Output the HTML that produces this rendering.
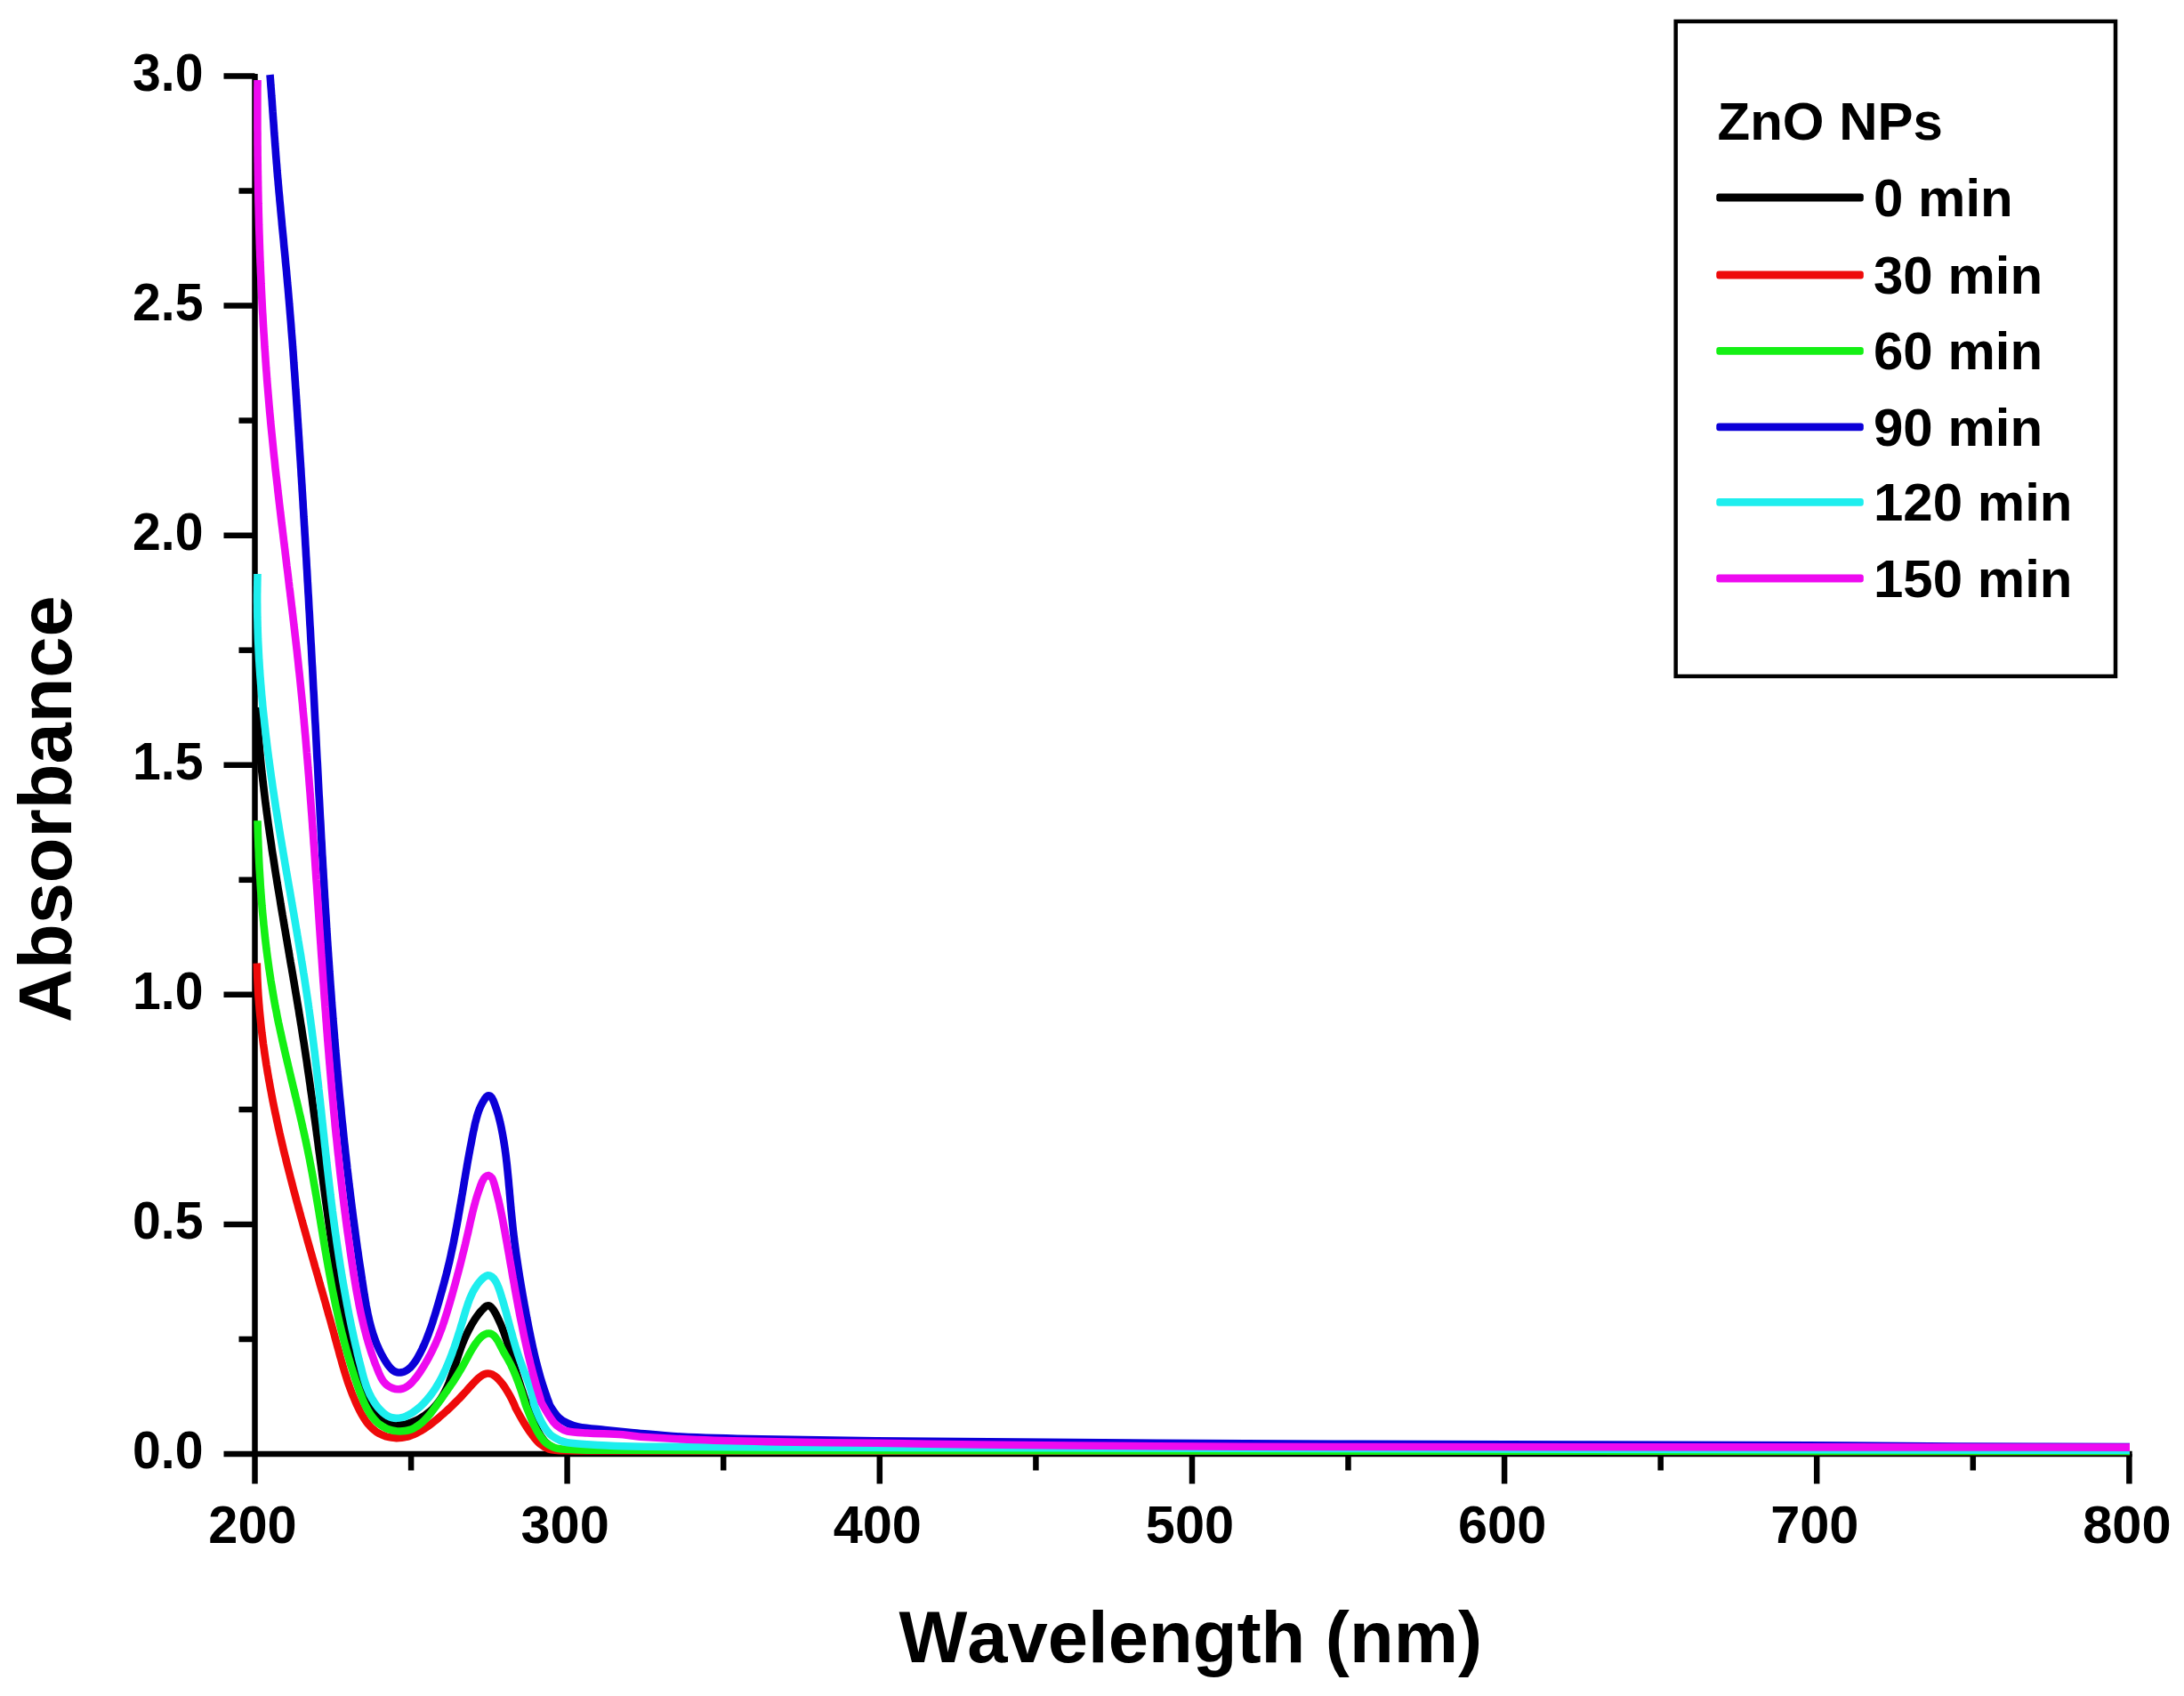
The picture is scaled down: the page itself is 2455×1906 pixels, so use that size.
<!DOCTYPE html>
<html lang="en"><head><meta charset="utf-8"><title>UV-Vis absorbance of ZnO NPs</title>
<style>html,body{margin:0;padding:0;background:#fff;}body{width:2455px;height:1906px;overflow:hidden;}svg{display:block;}text{font-family:'Liberation Sans', Arial, Helvetica, sans-serif;font-weight:bold;fill:#000;font-kerning:none;font-variant-ligatures:none;}</style>
</head><body>
<svg width="2455" height="1906" viewBox="0 0 2455 1906">
<rect x="0" y="0" width="2455" height="1906" fill="#ffffff"/>
<g stroke="#000" fill="none" stroke-linecap="butt">
<line x1="286.5" y1="83.0" x2="286.5" y2="1667.5" stroke-width="6.5"/>
<line x1="251.5" y1="1634.0" x2="2396.7" y2="1634.0" stroke-width="6.5"/>
<line x1="268.5" y1="1505.0" x2="286.5" y2="1505.0" stroke-width="6.5"/>
<line x1="251.5" y1="1375.9" x2="286.5" y2="1375.9" stroke-width="6.5"/>
<line x1="268.5" y1="1246.9" x2="286.5" y2="1246.9" stroke-width="6.5"/>
<line x1="251.5" y1="1117.8" x2="286.5" y2="1117.8" stroke-width="6.5"/>
<line x1="268.5" y1="988.8" x2="286.5" y2="988.8" stroke-width="6.5"/>
<line x1="251.5" y1="859.7" x2="286.5" y2="859.7" stroke-width="6.5"/>
<line x1="268.5" y1="730.7" x2="286.5" y2="730.7" stroke-width="6.5"/>
<line x1="251.5" y1="601.7" x2="286.5" y2="601.7" stroke-width="6.5"/>
<line x1="268.5" y1="472.6" x2="286.5" y2="472.6" stroke-width="6.5"/>
<line x1="251.5" y1="343.6" x2="286.5" y2="343.6" stroke-width="6.5"/>
<line x1="268.5" y1="214.5" x2="286.5" y2="214.5" stroke-width="6.5"/>
<line x1="251.5" y1="85.5" x2="286.5" y2="85.5" stroke-width="6.5"/>
<line x1="462.1" y1="1634.0" x2="462.1" y2="1652.5" stroke-width="6.5"/>
<line x1="637.6" y1="1634.0" x2="637.6" y2="1667.5" stroke-width="6.5"/>
<line x1="813.2" y1="1634.0" x2="813.2" y2="1652.5" stroke-width="6.5"/>
<line x1="988.8" y1="1634.0" x2="988.8" y2="1667.5" stroke-width="6.5"/>
<line x1="1164.4" y1="1634.0" x2="1164.4" y2="1652.5" stroke-width="6.5"/>
<line x1="1340.0" y1="1634.0" x2="1340.0" y2="1667.5" stroke-width="6.5"/>
<line x1="1515.5" y1="1634.0" x2="1515.5" y2="1652.5" stroke-width="6.5"/>
<line x1="1691.1" y1="1634.0" x2="1691.1" y2="1667.5" stroke-width="6.5"/>
<line x1="1866.7" y1="1634.0" x2="1866.7" y2="1652.5" stroke-width="6.5"/>
<line x1="2042.2" y1="1634.0" x2="2042.2" y2="1667.5" stroke-width="6.5"/>
<line x1="2217.8" y1="1634.0" x2="2217.8" y2="1652.5" stroke-width="6.5"/>
<line x1="2393.4" y1="1634.0" x2="2393.4" y2="1667.5" stroke-width="6.5"/>
</g>
<g font-size="59.5">
<text transform="translate(228.5 1650.0) scale(0.96 1)" text-anchor="end">0.0</text>
<text transform="translate(228.5 1391.9) scale(0.96 1)" text-anchor="end">0.5</text>
<text transform="translate(228.5 1133.8) scale(0.96 1)" text-anchor="end">1.0</text>
<text transform="translate(228.5 875.7) scale(0.96 1)" text-anchor="end">1.5</text>
<text transform="translate(228.5 617.7) scale(0.96 1)" text-anchor="end">2.0</text>
<text transform="translate(228.5 359.6) scale(0.96 1)" text-anchor="end">2.5</text>
<text transform="translate(228.5 101.5) scale(0.96 1)" text-anchor="end">3.0</text>
</g>
<g font-size="59.5">
<text x="284.0" y="1733.5" text-anchor="middle">200</text>
<text x="635.1" y="1733.5" text-anchor="middle">300</text>
<text x="986.3" y="1733.5" text-anchor="middle">400</text>
<text x="1337.5" y="1733.5" text-anchor="middle">500</text>
<text x="1688.6" y="1733.5" text-anchor="middle">600</text>
<text x="2039.8" y="1733.5" text-anchor="middle">700</text>
<text x="2390.9" y="1733.5" text-anchor="middle">800</text>
</g>
<text x="1010.5" y="1868" font-size="81.4">Wavelength (nm)</text>
<text transform="translate(79.5 1149) rotate(-90)" font-size="83">Absorbance</text>
<g fill="none" stroke-width="8.6" stroke-linejoin="round" stroke-linecap="butt">
<path stroke="#000000" d="M288.5 795.0 C288.6 797.0 288.7 799.0 288.8 801.0 C289.0 803.0 289.1 805.0 289.2 807.0 C289.3 809.0 289.5 811.1 289.6 813.1 C289.7 815.1 289.9 817.1 290.0 819.1 C290.2 821.1 290.3 823.1 290.5 825.1 C290.6 827.1 290.8 829.1 291.0 831.1 C291.1 833.1 291.3 835.1 291.5 837.1 C291.6 839.1 291.8 841.1 292.0 843.1 C292.2 845.1 292.4 847.1 292.5 849.1 C292.7 851.1 292.9 853.1 293.1 855.1 C293.3 857.1 293.5 859.1 293.7 861.1 C293.9 863.1 294.1 865.1 294.3 867.1 C294.6 869.1 294.8 871.0 295.0 873.0 C295.2 875.0 295.4 877.0 295.7 879.0 C295.9 881.0 296.1 883.0 296.4 885.0 C296.6 887.0 296.8 889.0 297.1 891.0 C297.3 893.0 297.6 895.0 297.8 897.0 C298.0 899.0 298.3 900.9 298.5 902.9 C298.8 904.9 299.1 906.9 299.3 908.9 C299.6 910.9 299.8 912.9 300.1 914.9 C300.4 916.9 300.6 918.9 300.9 920.8 C301.2 922.8 301.4 924.8 301.7 926.8 C302.0 928.8 302.3 930.8 302.6 932.8 C302.8 934.8 303.1 936.8 303.4 938.7 C303.7 940.7 304.0 942.7 304.3 944.7 C304.6 946.7 304.9 948.7 305.2 950.7 C305.4 952.6 305.7 954.6 306.0 956.6 C306.3 958.6 306.6 960.6 307.0 962.6 C307.3 964.6 307.6 966.5 307.9 968.5 C308.2 970.5 308.5 972.5 308.8 974.5 C309.1 976.5 309.4 978.4 309.7 980.4 C310.0 982.4 310.4 984.4 310.7 986.4 C311.0 988.4 311.3 990.3 311.6 992.3 C312.0 994.3 312.3 996.3 312.6 998.3 C312.9 1000.3 313.3 1002.2 313.6 1004.2 C313.9 1006.2 314.2 1008.2 314.6 1010.2 C314.9 1012.2 315.2 1014.1 315.5 1016.1 C315.9 1018.1 316.2 1020.1 316.5 1022.1 C316.9 1024.0 317.2 1026.0 317.5 1028.0 C317.9 1030.0 318.2 1032.0 318.5 1033.9 C318.9 1035.9 319.2 1037.9 319.5 1039.9 C319.9 1041.9 320.2 1043.9 320.6 1045.8 C320.9 1047.8 321.2 1049.8 321.6 1051.8 C321.9 1053.8 322.2 1055.7 322.6 1057.7 C322.9 1059.7 323.3 1061.7 323.6 1063.7 C323.9 1065.6 324.3 1067.6 324.6 1069.6 C325.0 1071.6 325.3 1073.6 325.6 1075.5 C326.0 1077.5 326.3 1079.5 326.6 1081.5 C327.0 1083.5 327.3 1085.4 327.7 1087.4 C328.0 1089.4 328.3 1091.4 328.7 1093.4 C329.0 1095.3 329.4 1097.3 329.7 1099.3 C330.0 1101.3 330.4 1103.3 330.7 1105.2 C331.0 1107.2 331.4 1109.2 331.7 1111.2 C332.0 1113.2 332.4 1115.1 332.7 1117.1 C333.0 1119.1 333.4 1121.1 333.7 1123.1 C334.0 1125.0 334.3 1127.0 334.7 1129.0 C335.0 1131.0 335.3 1133.0 335.7 1134.9 C336.0 1136.9 336.3 1138.9 336.6 1140.9 C337.0 1142.9 337.3 1144.9 337.6 1146.8 C337.9 1148.8 338.2 1150.8 338.6 1152.8 C338.9 1154.8 339.2 1156.7 339.5 1158.7 C339.8 1160.7 340.1 1162.7 340.4 1164.7 C340.7 1166.7 341.1 1168.6 341.4 1170.6 C341.7 1172.6 342.0 1174.6 342.3 1176.6 C342.6 1178.6 342.9 1180.5 343.2 1182.5 C343.5 1184.5 343.8 1186.5 344.1 1188.5 C344.4 1190.5 344.7 1192.4 345.0 1194.4 C345.3 1196.4 345.5 1198.4 345.8 1200.4 C346.1 1202.4 346.4 1204.3 346.7 1206.3 C347.0 1208.3 347.3 1210.3 347.6 1212.3 C347.8 1214.3 348.1 1216.3 348.4 1218.2 C348.7 1220.2 349.0 1222.2 349.2 1224.2 C349.5 1226.2 349.8 1228.2 350.1 1230.2 C350.4 1232.1 350.6 1234.1 350.9 1236.1 C351.2 1238.1 351.4 1240.1 351.7 1242.1 C352.0 1244.1 352.3 1246.0 352.5 1248.0 C352.8 1250.0 353.1 1252.0 353.3 1254.0 C353.6 1256.0 353.9 1258.0 354.2 1260.0 C354.4 1261.9 354.7 1263.9 355.0 1265.9 C355.2 1267.9 355.5 1269.9 355.8 1271.9 C356.0 1273.9 356.3 1275.9 356.6 1277.8 C356.8 1279.8 357.1 1281.8 357.4 1283.8 C357.6 1285.8 357.9 1287.8 358.1 1289.8 C358.4 1291.8 358.7 1293.8 358.9 1295.7 C359.2 1297.7 359.5 1299.7 359.7 1301.7 C360.0 1303.7 360.3 1305.7 360.5 1307.7 C360.8 1309.7 361.1 1311.7 361.3 1313.7 C361.6 1315.6 361.9 1317.6 362.1 1319.6 C362.4 1321.6 362.6 1323.6 362.9 1325.6 C363.2 1327.6 363.4 1329.6 363.7 1331.6 C364.0 1333.6 364.2 1335.5 364.5 1337.5 C364.8 1339.5 365.1 1341.5 365.3 1343.5 C365.6 1345.5 365.9 1347.5 366.1 1349.5 C366.4 1351.5 366.7 1353.5 367.0 1355.5 C367.2 1357.5 367.5 1359.4 367.8 1361.4 C368.0 1363.4 368.3 1365.4 368.6 1367.4 C368.9 1369.4 369.2 1371.4 369.4 1373.4 C369.7 1375.4 370.0 1377.4 370.3 1379.4 C370.6 1381.4 370.8 1383.3 371.1 1385.3 C371.4 1387.3 371.7 1389.3 372.0 1391.3 C372.3 1393.3 372.6 1395.3 372.8 1397.3 C373.1 1399.3 373.4 1401.3 373.7 1403.3 C374.0 1405.3 374.3 1407.3 374.6 1409.2 C374.9 1411.2 375.2 1413.2 375.5 1415.2 C375.8 1417.2 376.1 1419.2 376.4 1421.2 C376.7 1423.2 377.0 1425.2 377.3 1427.2 C377.6 1429.2 377.9 1431.2 378.3 1433.2 C378.6 1435.2 378.9 1437.1 379.2 1439.1 C379.5 1441.1 379.8 1443.1 380.2 1445.1 C380.5 1447.1 380.8 1449.1 381.2 1451.1 C381.5 1453.1 381.8 1455.0 382.2 1457.0 C382.5 1459.0 382.9 1461.0 383.2 1463.0 C383.6 1465.0 383.9 1466.9 384.3 1468.9 C384.7 1470.9 385.0 1472.9 385.4 1474.8 C385.8 1476.8 386.2 1478.8 386.5 1480.7 C386.9 1482.7 387.3 1484.7 387.7 1486.6 C388.1 1488.6 388.5 1490.5 388.9 1492.5 C389.3 1494.5 389.8 1496.4 390.2 1498.4 C390.6 1500.3 391.0 1502.3 391.5 1504.2 C391.9 1506.1 392.4 1508.1 392.8 1510.0 C393.3 1511.9 393.8 1513.9 394.2 1515.8 C394.7 1517.7 395.2 1519.6 395.7 1521.6 C396.2 1523.5 396.7 1525.4 397.2 1527.3 C397.7 1529.2 398.2 1531.1 398.8 1533.0 C399.3 1534.9 399.8 1536.8 400.4 1538.7 C400.9 1540.6 401.5 1542.4 402.1 1544.3 C402.7 1546.2 403.2 1548.1 403.9 1549.9 C404.5 1551.8 405.1 1553.7 405.8 1555.6 C406.5 1557.4 407.2 1559.3 407.9 1561.2 C408.7 1563.0 409.5 1564.9 410.3 1566.8 C411.1 1568.7 412.0 1570.6 412.9 1572.4 C413.9 1574.3 414.9 1576.2 415.9 1578.1 C417.0 1580.0 418.1 1581.9 419.3 1583.7 C420.5 1585.6 421.7 1587.4 423.1 1589.2 C424.4 1590.8 425.8 1592.4 427.3 1593.9 C428.8 1595.2 430.4 1596.4 432.1 1597.4 C433.7 1598.4 435.5 1599.2 437.3 1599.9 C439.0 1600.5 440.9 1600.9 442.8 1601.2 C444.7 1601.4 446.6 1601.5 448.5 1601.5 C450.5 1601.4 452.4 1601.2 454.4 1600.9 C456.3 1600.5 458.3 1600.0 460.2 1599.4 C462.1 1598.8 464.1 1598.1 465.9 1597.3 C467.8 1596.5 469.7 1595.5 471.5 1594.5 C473.3 1593.5 475.0 1592.4 476.8 1591.2 C478.5 1590.0 480.1 1588.7 481.7 1587.4 C483.3 1586.1 484.8 1584.7 486.3 1583.3 C487.7 1581.9 489.0 1580.4 490.3 1578.9 C491.6 1577.4 492.8 1575.9 493.9 1574.3 C495.0 1572.8 496.1 1571.2 497.1 1569.5 C498.1 1567.9 499.0 1566.2 499.9 1564.5 C500.8 1562.8 501.6 1561.1 502.4 1559.4 C503.2 1557.6 504.0 1555.8 504.7 1554.1 C505.4 1552.2 506.1 1550.4 506.7 1548.6 C507.4 1546.7 508.1 1544.9 508.7 1543.0 C509.3 1541.1 510.0 1539.2 510.6 1537.3 C511.2 1535.3 511.8 1533.4 512.5 1531.4 C513.1 1529.4 513.7 1527.5 514.4 1525.5 C515.1 1523.5 515.7 1521.5 516.4 1519.5 C517.1 1517.5 517.9 1515.4 518.6 1513.4 C519.4 1511.3 520.2 1509.3 521.1 1507.3 C521.9 1505.2 522.8 1503.1 523.8 1501.1 C524.7 1499.1 525.7 1497.0 526.7 1495.0 C527.7 1493.1 528.8 1491.1 529.8 1489.2 C530.9 1487.3 532.0 1485.5 533.1 1483.7 C534.2 1481.9 535.4 1480.2 536.6 1478.6 C537.7 1477.1 538.9 1475.5 540.1 1474.1 C541.2 1472.8 542.4 1471.5 543.7 1470.3 C544.8 1469.3 545.9 1468.0 547.3 1467.5 C548.3 1467.2 549.8 1467.3 550.8 1467.9 C552.2 1468.6 553.3 1470.2 554.3 1471.5 C555.5 1473.2 556.5 1475.1 557.6 1477.0 C558.6 1479.0 559.6 1481.0 560.5 1483.1 C561.4 1485.0 562.3 1487.1 563.2 1489.1 C564.0 1491.0 564.8 1493.0 565.5 1495.0 C566.3 1497.0 567.0 1499.0 567.7 1501.0 C568.4 1502.9 569.0 1504.9 569.7 1506.8 C570.3 1508.8 570.9 1510.7 571.5 1512.7 C572.1 1514.6 572.6 1516.5 573.2 1518.5 C573.8 1520.4 574.3 1522.3 574.9 1524.2 C575.4 1526.2 576.0 1528.1 576.6 1530.0 C577.1 1531.9 577.7 1533.8 578.3 1535.7 C578.9 1537.6 579.4 1539.5 580.0 1541.4 C580.6 1543.3 581.2 1545.2 581.8 1547.1 C582.4 1549.0 583.0 1550.9 583.7 1552.8 C584.3 1554.7 584.9 1556.6 585.5 1558.5 C586.1 1560.4 586.8 1562.3 587.4 1564.3 C588.1 1566.2 588.7 1568.1 589.3 1570.0 C590.0 1571.9 590.6 1573.8 591.3 1575.7 C594.1 1583.2 596.8 1590.7 600.0 1598.0 C602.4 1603.5 604.8 1609.1 608.0 1614.0 C610.4 1617.7 613.4 1621.5 617.0 1624.0 C620.8 1626.6 625.4 1628.8 630.0 1629.5 C639.8 1631.1 650.0 1631.0 660.0 1631.0 C1238.0 1631.7 1816.0 1631.3 2394.0 1631.5"/>
<path stroke="#ee0a0a" d="M288.8 1082.5 C288.9 1084.5 288.9 1086.6 289.0 1088.6 C289.0 1090.6 289.1 1092.6 289.2 1094.7 C289.2 1096.7 289.3 1098.7 289.4 1100.7 C289.5 1102.7 289.6 1104.8 289.7 1106.8 C289.8 1108.8 289.9 1110.8 290.0 1112.8 C290.2 1114.8 290.3 1116.9 290.4 1118.9 C290.6 1120.9 290.7 1122.9 290.9 1124.9 C291.0 1126.9 291.2 1128.9 291.4 1130.9 C291.5 1132.9 291.7 1134.9 291.9 1136.9 C292.1 1138.9 292.3 1140.9 292.5 1142.9 C292.7 1144.9 292.9 1146.9 293.1 1148.9 C293.3 1150.9 293.5 1152.9 293.7 1154.9 C294.0 1156.9 294.2 1158.9 294.4 1160.9 C294.7 1162.9 294.9 1164.9 295.2 1166.9 C295.4 1168.8 295.7 1170.8 295.9 1172.8 C296.2 1174.8 296.5 1176.8 296.8 1178.8 C297.0 1180.8 297.3 1182.7 297.6 1184.7 C297.9 1186.7 298.2 1188.7 298.5 1190.7 C298.8 1192.6 299.1 1194.6 299.4 1196.6 C299.7 1198.6 300.1 1200.5 300.4 1202.5 C300.7 1204.5 301.0 1206.5 301.4 1208.4 C301.7 1210.4 302.1 1212.4 302.4 1214.4 C302.8 1216.3 303.1 1218.3 303.5 1220.3 C303.8 1222.2 304.2 1224.2 304.6 1226.2 C304.9 1228.1 305.3 1230.1 305.7 1232.1 C306.1 1234.0 306.4 1236.0 306.8 1238.0 C307.2 1239.9 307.6 1241.9 308.0 1243.8 C308.4 1245.8 308.8 1247.8 309.2 1249.7 C309.6 1251.7 310.1 1253.7 310.5 1255.6 C310.9 1257.6 311.3 1259.5 311.7 1261.5 C312.2 1263.4 312.6 1265.4 313.0 1267.4 C313.5 1269.3 313.9 1271.3 314.3 1273.2 C314.8 1275.2 315.2 1277.1 315.7 1279.1 C316.1 1281.0 316.6 1283.0 317.0 1284.9 C317.5 1286.9 318.0 1288.8 318.4 1290.8 C318.9 1292.7 319.4 1294.7 319.8 1296.6 C320.3 1298.6 320.8 1300.5 321.3 1302.5 C321.7 1304.4 322.2 1306.4 322.7 1308.3 C323.2 1310.3 323.7 1312.2 324.2 1314.2 C324.7 1316.1 325.2 1318.1 325.7 1320.0 C326.2 1322.0 326.7 1323.9 327.2 1325.9 C327.7 1327.8 328.2 1329.7 328.7 1331.7 C329.2 1333.6 329.7 1335.6 330.2 1337.5 C330.7 1339.5 331.3 1341.4 331.8 1343.4 C332.3 1345.3 332.8 1347.2 333.3 1349.2 C333.9 1351.1 334.4 1353.1 334.9 1355.0 C335.4 1357.0 336.0 1358.9 336.5 1360.8 C337.0 1362.8 337.6 1364.7 338.1 1366.7 C338.6 1368.6 339.2 1370.6 339.7 1372.5 C340.3 1374.4 340.8 1376.4 341.3 1378.3 C341.9 1380.3 342.4 1382.2 343.0 1384.2 C343.5 1386.1 344.1 1388.0 344.6 1390.0 C345.1 1391.9 345.7 1393.9 346.2 1395.8 C346.8 1397.8 347.3 1399.7 347.9 1401.6 C348.4 1403.6 349.0 1405.5 349.6 1407.5 C350.1 1409.4 350.7 1411.3 351.2 1413.3 C351.8 1415.2 352.3 1417.2 352.9 1419.1 C353.4 1421.1 354.0 1423.0 354.5 1424.9 C355.1 1426.9 355.7 1428.8 356.2 1430.8 C356.8 1432.7 357.3 1434.6 357.9 1436.6 C358.4 1438.5 359.0 1440.4 359.5 1442.4 C360.1 1444.3 360.6 1446.3 361.2 1448.2 C361.7 1450.1 362.3 1452.1 362.9 1454.0 C363.4 1455.9 364.0 1457.9 364.5 1459.8 C365.1 1461.7 365.6 1463.7 366.2 1465.6 C366.7 1467.5 367.2 1469.5 367.8 1471.4 C368.3 1473.3 368.9 1475.3 369.4 1477.2 C370.0 1479.1 370.5 1481.1 371.1 1483.0 C371.6 1484.9 372.1 1486.8 372.7 1488.8 C373.2 1490.7 373.7 1492.6 374.3 1494.5 C374.8 1496.5 375.3 1498.4 375.9 1500.3 C376.4 1502.2 376.9 1504.1 377.4 1506.1 C378.0 1508.0 378.5 1509.9 379.0 1511.8 C379.5 1513.7 380.0 1515.6 380.6 1517.6 C381.1 1519.5 381.6 1521.4 382.1 1523.3 C382.6 1525.2 383.2 1527.1 383.7 1529.0 C384.2 1530.9 384.8 1532.8 385.3 1534.8 C385.9 1536.7 386.5 1538.6 387.0 1540.5 C387.6 1542.4 388.2 1544.3 388.8 1546.2 C389.4 1548.1 390.0 1550.0 390.6 1551.9 C391.3 1553.8 391.9 1555.7 392.6 1557.6 C393.3 1559.5 394.0 1561.3 394.7 1563.2 C395.4 1565.1 396.1 1567.0 396.9 1568.9 C397.7 1570.8 398.5 1572.7 399.3 1574.5 C400.1 1576.4 400.9 1578.3 401.8 1580.2 C402.7 1582.1 403.6 1584.0 404.6 1585.8 C405.5 1587.6 406.5 1589.5 407.6 1591.3 C408.6 1593.0 409.7 1594.8 410.9 1596.5 C412.1 1598.1 413.3 1599.8 414.6 1601.3 C415.9 1602.8 417.3 1604.3 418.7 1605.6 C420.2 1606.9 421.7 1608.2 423.4 1609.3 C425.0 1610.3 426.8 1611.3 428.6 1612.1 C430.4 1613.0 432.2 1613.7 434.1 1614.3 C436.0 1614.8 438.0 1615.3 440.0 1615.6 C441.9 1615.9 443.9 1616.0 445.8 1616.1 C447.8 1616.1 449.7 1616.0 451.6 1615.8 C453.5 1615.6 455.4 1615.2 457.2 1614.7 C459.1 1614.3 460.9 1613.7 462.7 1613.0 C464.5 1612.4 466.3 1611.6 468.0 1610.7 C469.8 1609.9 471.5 1608.9 473.2 1608.0 C475.0 1606.9 476.7 1605.9 478.3 1604.8 C480.0 1603.6 481.7 1602.4 483.3 1601.2 C484.9 1600.0 486.5 1598.8 488.1 1597.5 C489.7 1596.2 491.3 1594.9 492.9 1593.6 C494.4 1592.2 496.0 1590.9 497.5 1589.6 C499.1 1588.2 500.6 1586.8 502.1 1585.5 C503.6 1584.1 505.1 1582.7 506.6 1581.3 C508.1 1579.8 509.6 1578.4 511.1 1576.9 C512.5 1575.5 514.0 1574.0 515.5 1572.5 C517.0 1571.0 518.4 1569.4 519.9 1567.9 C521.3 1566.3 522.8 1564.7 524.3 1563.1 C525.7 1561.5 527.2 1559.8 528.6 1558.2 C530.1 1556.6 531.5 1554.9 533.1 1553.4 C534.5 1551.9 535.9 1550.4 537.5 1549.0 C538.9 1547.8 540.4 1546.6 542.0 1545.6 C543.4 1544.8 545.0 1544.0 546.6 1543.7 C548.1 1543.4 549.8 1543.5 551.2 1543.9 C552.9 1544.3 554.5 1545.2 555.9 1546.2 C557.6 1547.3 559.1 1548.7 560.5 1550.2 C562.1 1551.8 563.5 1553.6 564.9 1555.4 C566.3 1557.3 567.7 1559.3 569.0 1561.4 C570.3 1563.4 571.5 1565.5 572.6 1567.6 C573.7 1569.6 574.8 1571.6 575.8 1573.6 C576.6 1575.3 577.5 1577.1 578.3 1578.9 C578.9 1580.2 579.3 1581.7 580.0 1583.0 C582.8 1588.2 585.6 1593.4 588.7 1598.5 C591.5 1603.1 594.4 1607.7 597.7 1612.0 C600.5 1615.7 603.3 1619.5 606.8 1622.5 C609.8 1625.0 613.4 1627.4 617.2 1628.5 C622.5 1630.0 628.4 1630.2 634.0 1630.3 C656.0 1630.8 678.0 1630.5 700.0 1630.5 C1264.7 1630.7 1829.3 1630.8 2394.0 1631.0"/>
<path stroke="#14f014" d="M289.5 922.2 C289.5 924.2 289.6 926.2 289.7 928.2 C289.7 930.2 289.8 932.2 289.8 934.2 C289.9 936.3 290.0 938.3 290.0 940.3 C290.1 942.3 290.2 944.3 290.3 946.3 C290.3 948.3 290.4 950.3 290.5 952.3 C290.6 954.3 290.7 956.3 290.8 958.3 C290.8 960.3 290.9 962.3 291.0 964.3 C291.1 966.3 291.2 968.3 291.3 970.3 C291.4 972.3 291.5 974.3 291.6 976.3 C291.8 978.3 291.9 980.3 292.0 982.3 C292.1 984.3 292.2 986.3 292.4 988.3 C292.5 990.3 292.6 992.3 292.7 994.3 C292.9 996.3 293.0 998.3 293.1 1000.3 C293.3 1002.3 293.4 1004.2 293.6 1006.2 C293.7 1008.2 293.9 1010.2 294.0 1012.2 C294.2 1014.2 294.4 1016.2 294.5 1018.2 C294.7 1020.2 294.9 1022.2 295.0 1024.2 C295.2 1026.2 295.4 1028.2 295.6 1030.1 C295.8 1032.1 296.0 1034.1 296.2 1036.1 C296.3 1038.1 296.5 1040.1 296.8 1042.1 C297.0 1044.1 297.2 1046.1 297.4 1048.0 C297.6 1050.0 297.8 1052.0 298.0 1054.0 C298.3 1056.0 298.5 1058.0 298.7 1060.0 C299.0 1061.9 299.2 1063.9 299.4 1065.9 C299.7 1067.9 299.9 1069.9 300.2 1071.9 C300.4 1073.9 300.7 1075.8 301.0 1077.8 C301.2 1079.8 301.5 1081.8 301.8 1083.8 C302.0 1085.8 302.3 1087.7 302.6 1089.7 C302.9 1091.7 303.2 1093.7 303.5 1095.7 C303.8 1097.6 304.1 1099.6 304.4 1101.6 C304.7 1103.6 305.0 1105.6 305.4 1107.5 C305.7 1109.5 306.0 1111.5 306.4 1113.5 C306.7 1115.5 307.0 1117.4 307.4 1119.4 C307.7 1121.4 308.1 1123.4 308.4 1125.3 C308.8 1127.3 309.2 1129.3 309.5 1131.3 C309.9 1133.3 310.3 1135.2 310.7 1137.2 C311.1 1139.2 311.4 1141.2 311.8 1143.1 C312.2 1145.1 312.6 1147.1 313.0 1149.1 C313.5 1151.0 313.9 1153.0 314.3 1155.0 C314.7 1157.0 315.1 1158.9 315.6 1160.9 C316.0 1162.9 316.4 1164.8 316.9 1166.8 C317.3 1168.8 317.7 1170.8 318.2 1172.7 C318.6 1174.7 319.1 1176.7 319.5 1178.6 C320.0 1180.6 320.4 1182.6 320.9 1184.6 C321.3 1186.5 321.8 1188.5 322.3 1190.5 C322.7 1192.4 323.2 1194.4 323.7 1196.4 C324.1 1198.4 324.6 1200.3 325.1 1202.3 C325.5 1204.3 326.0 1206.2 326.5 1208.2 C326.9 1210.2 327.4 1212.1 327.9 1214.1 C328.4 1216.1 328.8 1218.0 329.3 1220.0 C329.8 1222.0 330.3 1223.9 330.7 1225.9 C331.2 1227.9 331.7 1229.8 332.1 1231.8 C332.6 1233.8 333.1 1235.7 333.6 1237.7 C334.0 1239.7 334.5 1241.6 335.0 1243.6 C335.4 1245.6 335.9 1247.5 336.3 1249.5 C336.8 1251.5 337.3 1253.4 337.7 1255.4 C338.2 1257.4 338.6 1259.3 339.1 1261.3 C339.5 1263.3 340.0 1265.2 340.4 1267.2 C340.9 1269.2 341.3 1271.1 341.7 1273.1 C342.2 1275.0 342.6 1277.0 343.0 1279.0 C343.4 1280.9 343.9 1282.9 344.3 1284.9 C344.7 1286.8 345.1 1288.8 345.5 1290.7 C345.9 1292.7 346.3 1294.7 346.7 1296.6 C347.1 1298.6 347.5 1300.6 347.9 1302.5 C348.3 1304.5 348.6 1306.4 349.0 1308.4 C349.4 1310.4 349.8 1312.3 350.1 1314.3 C350.5 1316.3 350.9 1318.2 351.2 1320.2 C351.6 1322.1 351.9 1324.1 352.3 1326.1 C352.6 1328.0 353.0 1330.0 353.3 1331.9 C353.7 1333.9 354.0 1335.9 354.4 1337.8 C354.7 1339.8 355.0 1341.7 355.4 1343.7 C355.7 1345.7 356.0 1347.6 356.4 1349.6 C356.7 1351.5 357.0 1353.5 357.4 1355.5 C357.7 1357.4 358.0 1359.4 358.4 1361.3 C358.7 1363.3 359.0 1365.3 359.3 1367.2 C359.7 1369.2 360.0 1371.1 360.3 1373.1 C360.6 1375.1 361.0 1377.0 361.3 1379.0 C361.6 1380.9 361.9 1382.9 362.3 1384.9 C362.6 1386.8 362.9 1388.8 363.2 1390.7 C363.6 1392.7 363.9 1394.7 364.2 1396.6 C364.5 1398.6 364.9 1400.5 365.2 1402.5 C365.5 1404.5 365.9 1406.4 366.2 1408.4 C366.5 1410.3 366.9 1412.3 367.2 1414.2 C367.6 1416.2 367.9 1418.2 368.3 1420.1 C368.6 1422.1 368.9 1424.0 369.3 1426.0 C369.7 1428.0 370.0 1429.9 370.4 1431.9 C370.7 1433.8 371.1 1435.8 371.5 1437.7 C371.8 1439.7 372.2 1441.7 372.6 1443.6 C372.9 1445.6 373.3 1447.5 373.7 1449.5 C374.1 1451.5 374.5 1453.4 374.9 1455.4 C375.3 1457.3 375.7 1459.3 376.1 1461.2 C376.5 1463.2 376.9 1465.2 377.3 1467.1 C377.7 1469.1 378.1 1471.0 378.6 1473.0 C379.0 1475.0 379.4 1476.9 379.9 1478.9 C380.3 1480.8 380.7 1482.8 381.2 1484.8 C381.7 1486.7 382.1 1488.7 382.6 1490.6 C383.1 1492.6 383.5 1494.6 384.0 1496.5 C384.5 1498.5 385.0 1500.4 385.5 1502.4 C386.0 1504.3 386.5 1506.3 387.0 1508.3 C387.5 1510.2 388.1 1512.2 388.6 1514.1 C389.1 1516.1 389.7 1518.1 390.2 1520.0 C390.8 1522.0 391.3 1523.9 391.9 1525.9 C392.5 1527.9 393.1 1529.8 393.6 1531.8 C394.2 1533.7 394.8 1535.7 395.5 1537.7 C396.1 1539.6 396.7 1541.6 397.3 1543.5 C398.0 1545.5 398.6 1547.5 399.2 1549.4 C399.9 1551.4 400.6 1553.4 401.2 1555.3 C401.9 1557.3 402.6 1559.2 403.3 1561.2 C404.0 1563.2 404.7 1565.1 405.5 1567.1 C406.2 1569.0 407.0 1570.9 407.8 1572.8 C408.5 1574.7 409.4 1576.6 410.2 1578.5 C411.1 1580.3 412.0 1582.1 413.0 1583.8 C413.9 1585.5 414.9 1587.2 416.0 1588.9 C417.0 1590.5 418.2 1592.0 419.4 1593.5 C420.6 1595.0 421.8 1596.4 423.2 1597.7 C424.5 1599.0 425.9 1600.2 427.5 1601.3 C429.0 1602.4 430.6 1603.4 432.3 1604.2 C434.0 1605.1 435.8 1605.9 437.6 1606.5 C439.5 1607.1 441.5 1607.6 443.4 1607.9 C445.4 1608.3 447.5 1608.5 449.5 1608.5 C451.5 1608.5 453.5 1608.4 455.5 1608.1 C457.5 1607.8 459.5 1607.3 461.4 1606.7 C463.3 1606.0 465.1 1605.1 466.8 1604.1 C468.6 1603.1 470.3 1602.0 471.9 1600.7 C473.6 1599.4 475.2 1598.0 476.7 1596.5 C478.2 1595.0 479.7 1593.4 481.1 1591.8 C482.5 1590.2 483.9 1588.5 485.2 1586.8 C486.6 1585.1 487.9 1583.3 489.1 1581.6 C490.4 1579.9 491.6 1578.2 492.8 1576.5 C494.0 1574.8 495.1 1573.2 496.3 1571.6 C497.4 1570.0 498.5 1568.5 499.6 1566.9 C500.7 1565.4 501.7 1563.9 502.8 1562.4 C503.8 1560.9 504.9 1559.4 505.9 1557.9 C506.9 1556.4 508.0 1554.9 509.0 1553.4 C510.0 1551.8 511.0 1550.3 512.0 1548.7 C513.0 1547.1 514.0 1545.5 515.0 1543.9 C516.0 1542.2 517.1 1540.5 518.1 1538.8 C519.1 1537.0 520.2 1535.2 521.2 1533.3 C522.3 1531.4 523.4 1529.4 524.4 1527.4 C525.6 1525.4 526.6 1523.3 527.8 1521.2 C528.9 1519.2 530.1 1517.1 531.3 1515.1 C532.5 1513.2 533.6 1511.3 535.0 1509.5 C536.1 1507.8 537.4 1506.1 538.8 1504.6 C540.0 1503.3 541.4 1502.0 542.8 1500.9 C544.1 1500.0 545.5 1499.2 547.0 1498.8 C548.3 1498.5 549.9 1498.4 551.2 1498.7 C552.6 1499.1 554.1 1500.1 555.3 1501.1 C556.8 1502.5 557.9 1504.4 559.1 1506.1 C560.4 1508.2 561.5 1510.4 562.7 1512.6 C563.8 1514.7 564.9 1516.8 566.0 1518.9 C567.0 1520.8 568.1 1522.6 569.1 1524.4 C570.1 1526.1 571.1 1527.9 572.0 1529.6 C573.0 1531.3 573.9 1533.1 574.8 1534.9 C575.6 1536.7 576.5 1538.5 577.3 1540.4 C578.1 1542.3 578.9 1544.1 579.7 1546.0 C580.4 1547.9 581.2 1549.9 581.9 1551.8 C582.6 1553.7 583.3 1555.6 584.0 1557.6 C584.7 1559.5 585.3 1561.4 586.0 1563.3 C586.6 1565.2 587.2 1567.1 587.8 1569.0 C588.4 1570.9 589.0 1572.7 589.6 1574.6 C590.2 1576.4 590.6 1578.2 591.3 1580.0 C594.1 1587.0 596.8 1594.2 600.0 1601.0 C602.0 1605.3 604.3 1609.6 607.0 1613.5 C609.3 1616.8 611.8 1620.2 615.0 1622.5 C618.7 1625.1 623.1 1627.5 627.6 1628.0 C644.8 1629.9 662.5 1629.7 680.0 1629.8 C786.7 1630.5 893.3 1630.2 1000.0 1630.3 C1464.7 1630.6 1929.3 1630.8 2394.0 1631.0"/>
<path stroke="#0c00d8" d="M303.5 84.0 C303.7 86.0 303.8 88.0 304.0 90.0 C304.1 92.0 304.3 94.0 304.4 96.0 C304.6 98.0 304.7 100.0 304.9 102.0 C305.0 104.0 305.2 106.0 305.3 108.0 C305.5 110.0 305.6 112.0 305.8 114.0 C305.9 116.0 306.0 118.0 306.2 120.0 C306.3 122.0 306.5 124.0 306.6 126.0 C306.8 128.0 306.9 129.9 307.0 131.9 C307.2 133.9 307.3 135.9 307.5 137.9 C307.6 139.9 307.8 141.9 307.9 143.9 C308.0 145.9 308.2 147.9 308.3 149.9 C308.5 151.9 308.6 153.9 308.8 155.9 C308.9 157.9 309.1 159.9 309.2 161.9 C309.4 163.9 309.5 165.9 309.7 167.9 C309.8 169.9 310.0 171.9 310.1 173.9 C310.3 175.9 310.4 177.9 310.6 179.9 C310.7 181.9 310.9 183.9 311.1 185.8 C311.2 187.8 311.4 189.8 311.5 191.8 C311.7 193.8 311.9 195.8 312.0 197.8 C312.2 199.8 312.4 201.8 312.6 203.8 C312.7 205.8 312.9 207.8 313.1 209.8 C313.3 211.8 313.4 213.8 313.6 215.8 C313.8 217.8 314.0 219.8 314.2 221.8 C314.3 223.8 314.5 225.8 314.7 227.8 C314.9 229.8 315.1 231.8 315.3 233.8 C315.4 235.8 315.6 237.8 315.8 239.8 C316.0 241.7 316.2 243.7 316.4 245.7 C316.6 247.7 316.8 249.7 316.9 251.7 C317.1 253.7 317.3 255.7 317.5 257.7 C317.7 259.7 317.9 261.7 318.1 263.7 C318.3 265.7 318.5 267.7 318.7 269.7 C318.9 271.7 319.0 273.7 319.2 275.7 C319.4 277.7 319.6 279.7 319.8 281.7 C320.0 283.7 320.2 285.7 320.4 287.7 C320.6 289.7 320.8 291.7 320.9 293.7 C321.1 295.7 321.3 297.7 321.5 299.6 C321.7 301.6 321.9 303.6 322.1 305.6 C322.2 307.6 322.4 309.6 322.6 311.6 C322.8 313.6 323.0 315.6 323.1 317.6 C323.3 319.6 323.5 321.6 323.7 323.6 C323.9 325.6 324.0 327.6 324.2 329.6 C324.4 331.6 324.5 333.6 324.7 335.6 C324.9 337.6 325.1 339.6 325.2 341.6 C325.4 343.6 325.6 345.6 325.7 347.6 C325.9 349.6 326.0 351.6 326.2 353.6 C326.4 355.6 326.5 357.6 326.7 359.6 C326.9 361.5 327.0 363.5 327.2 365.5 C327.3 367.5 327.5 369.5 327.6 371.5 C327.8 373.5 327.9 375.5 328.1 377.5 C328.3 379.5 328.4 381.5 328.6 383.5 C328.7 385.5 328.9 387.5 329.0 389.5 C329.2 391.5 329.3 393.5 329.5 395.5 C329.6 397.5 329.7 399.5 329.9 401.5 C330.0 403.5 330.2 405.5 330.3 407.5 C330.5 409.5 330.6 411.5 330.7 413.5 C330.9 415.5 331.0 417.5 331.2 419.5 C331.3 421.5 331.5 423.5 331.6 425.5 C331.7 427.5 331.9 429.4 332.0 431.4 C332.1 433.4 332.3 435.4 332.4 437.4 C332.6 439.4 332.7 441.4 332.8 443.4 C333.0 445.4 333.1 447.4 333.2 449.4 C333.4 451.4 333.5 453.4 333.6 455.4 C333.8 457.4 333.9 459.4 334.0 461.4 C334.2 463.4 334.3 465.4 334.4 467.4 C334.5 469.4 334.7 471.4 334.8 473.4 C334.9 475.4 335.1 477.4 335.2 479.4 C335.3 481.4 335.5 483.4 335.6 485.4 C335.7 487.4 335.8 489.4 336.0 491.4 C336.1 493.4 336.2 495.4 336.4 497.4 C336.5 499.4 336.6 501.4 336.7 503.4 C336.9 505.4 337.0 507.4 337.1 509.3 C337.2 511.3 337.4 513.3 337.5 515.3 C337.6 517.3 337.8 519.3 337.9 521.3 C338.0 523.3 338.1 525.3 338.3 527.3 C338.4 529.3 338.5 531.3 338.6 533.3 C338.7 535.3 338.9 537.3 339.0 539.3 C339.1 541.3 339.2 543.3 339.4 545.3 C339.5 547.3 339.6 549.3 339.7 551.3 C339.9 553.3 340.0 555.3 340.1 557.3 C340.2 559.3 340.3 561.3 340.5 563.3 C340.6 565.3 340.7 567.3 340.8 569.3 C340.9 571.3 341.1 573.3 341.2 575.3 C341.3 577.3 341.4 579.3 341.5 581.3 C341.7 583.3 341.8 585.3 341.9 587.3 C342.0 589.3 342.1 591.3 342.3 593.3 C342.4 595.3 342.5 597.3 342.6 599.3 C342.7 601.3 342.9 603.3 343.0 605.3 C343.1 607.3 343.2 609.3 343.3 611.3 C343.4 613.3 343.6 615.3 343.7 617.3 C343.8 619.3 343.9 621.3 344.0 623.3 C344.1 625.3 344.3 627.2 344.4 629.2 C344.5 631.2 344.6 633.2 344.7 635.2 C344.8 637.2 344.9 639.2 345.1 641.2 C345.2 643.2 345.3 645.2 345.4 647.2 C345.5 649.2 345.6 651.2 345.7 653.2 C345.9 655.2 346.0 657.2 346.1 659.2 C346.2 661.2 346.3 663.2 346.4 665.2 C346.5 667.2 346.7 669.2 346.8 671.2 C346.9 673.2 347.0 675.2 347.1 677.2 C347.2 679.2 347.3 681.2 347.4 683.2 C347.5 685.2 347.7 687.2 347.8 689.2 C347.9 691.2 348.0 693.2 348.1 695.2 C348.2 697.2 348.3 699.2 348.4 701.2 C348.5 703.2 348.7 705.2 348.8 707.2 C348.9 709.2 349.0 711.2 349.1 713.2 C349.2 715.2 349.3 717.2 349.4 719.2 C349.5 721.2 349.6 723.2 349.8 725.2 C349.9 727.2 350.0 729.2 350.1 731.2 C350.2 733.2 350.3 735.2 350.4 737.2 C350.5 739.2 350.6 741.2 350.7 743.2 C350.8 745.2 350.9 747.2 351.1 749.2 C351.2 751.2 351.3 753.2 351.4 755.2 C351.5 757.2 351.6 759.2 351.7 761.2 C351.8 763.2 351.9 765.2 352.0 767.2 C352.1 769.2 352.2 771.2 352.3 773.2 C352.4 775.2 352.6 777.2 352.7 779.2 C352.8 781.2 352.9 783.2 353.0 785.2 C353.1 787.2 353.2 789.2 353.3 791.2 C353.4 793.2 353.5 795.2 353.6 797.2 C353.7 799.2 353.8 801.2 353.9 803.2 C354.0 805.2 354.1 807.2 354.2 809.2 C354.3 811.2 354.5 813.2 354.6 815.2 C354.7 817.2 354.8 819.3 354.9 821.3 C355.0 823.3 355.1 825.3 355.2 827.3 C355.3 829.3 355.4 831.3 355.5 833.3 C355.6 835.3 355.7 837.3 355.8 839.3 C355.9 841.3 356.0 843.3 356.1 845.3 C356.2 847.3 356.3 849.3 356.4 851.3 C356.5 853.3 356.6 855.3 356.8 857.3 C356.9 859.3 357.0 861.3 357.1 863.3 C357.2 865.3 357.3 867.3 357.4 869.3 C357.5 871.3 357.6 873.3 357.7 875.3 C357.8 877.3 357.9 879.3 358.0 881.3 C358.1 883.3 358.2 885.3 358.3 887.3 C358.4 889.3 358.5 891.3 358.6 893.3 C358.8 895.3 358.9 897.3 359.0 899.3 C359.1 901.3 359.2 903.3 359.3 905.3 C359.4 907.3 359.5 909.3 359.6 911.3 C359.7 913.3 359.8 915.3 359.9 917.3 C360.0 919.3 360.1 921.3 360.3 923.3 C360.4 925.3 360.5 927.3 360.6 929.3 C360.7 931.3 360.8 933.3 360.9 935.3 C361.0 937.3 361.1 939.3 361.2 941.3 C361.3 943.3 361.5 945.3 361.6 947.3 C361.7 949.4 361.8 951.4 361.9 953.4 C362.0 955.4 362.1 957.4 362.2 959.4 C362.3 961.4 362.5 963.4 362.6 965.4 C362.7 967.4 362.8 969.4 362.9 971.4 C363.0 973.4 363.1 975.4 363.3 977.4 C363.4 979.4 363.5 981.4 363.6 983.4 C363.7 985.4 363.8 987.4 364.0 989.4 C364.1 991.4 364.2 993.4 364.3 995.4 C364.4 997.4 364.5 999.4 364.7 1001.4 C364.8 1003.4 364.9 1005.4 365.0 1007.4 C365.1 1009.4 365.3 1011.4 365.4 1013.4 C365.5 1015.4 365.6 1017.4 365.7 1019.4 C365.9 1021.4 366.0 1023.4 366.1 1025.4 C366.2 1027.4 366.4 1029.4 366.5 1031.4 C366.6 1033.4 366.7 1035.4 366.9 1037.4 C367.0 1039.4 367.1 1041.4 367.2 1043.4 C367.4 1045.4 367.5 1047.4 367.6 1049.4 C367.8 1051.4 367.9 1053.4 368.0 1055.4 C368.1 1057.4 368.3 1059.4 368.4 1061.4 C368.5 1063.4 368.7 1065.4 368.8 1067.4 C368.9 1069.4 369.1 1071.4 369.2 1073.4 C369.3 1075.4 369.5 1077.4 369.6 1079.4 C369.8 1081.4 369.9 1083.4 370.0 1085.4 C370.2 1087.4 370.3 1089.4 370.4 1091.4 C370.6 1093.4 370.7 1095.4 370.9 1097.4 C371.0 1099.4 371.1 1101.4 371.3 1103.3 C371.4 1105.3 371.6 1107.3 371.7 1109.3 C371.9 1111.3 372.0 1113.3 372.2 1115.3 C372.3 1117.3 372.5 1119.3 372.6 1121.3 C372.7 1123.3 372.9 1125.3 373.0 1127.3 C373.2 1129.3 373.3 1131.3 373.5 1133.3 C373.7 1135.3 373.8 1137.3 374.0 1139.3 C374.1 1141.3 374.3 1143.3 374.4 1145.3 C374.6 1147.3 374.7 1149.3 374.9 1151.3 C375.1 1153.3 375.2 1155.3 375.4 1157.3 C375.5 1159.3 375.7 1161.3 375.9 1163.3 C376.0 1165.3 376.2 1167.2 376.3 1169.2 C376.5 1171.2 376.7 1173.2 376.8 1175.2 C377.0 1177.2 377.2 1179.2 377.3 1181.2 C377.5 1183.2 377.7 1185.2 377.9 1187.2 C378.0 1189.2 378.2 1191.2 378.4 1193.2 C378.5 1195.2 378.7 1197.2 378.9 1199.2 C379.1 1201.2 379.3 1203.2 379.4 1205.2 C379.6 1207.1 379.8 1209.1 380.0 1211.1 C380.1 1213.1 380.3 1215.1 380.5 1217.1 C380.7 1219.1 380.9 1221.1 381.1 1223.1 C381.3 1225.1 381.4 1227.1 381.6 1229.1 C381.8 1231.1 382.0 1233.1 382.2 1235.1 C382.4 1237.1 382.6 1239.0 382.8 1241.0 C383.0 1243.0 383.2 1245.0 383.4 1247.0 C383.6 1249.0 383.7 1251.0 383.9 1253.0 C384.1 1255.0 384.3 1257.0 384.5 1259.0 C384.7 1261.0 385.0 1263.0 385.2 1265.0 C385.4 1266.9 385.6 1268.9 385.8 1270.9 C386.0 1272.9 386.2 1274.9 386.4 1276.9 C386.6 1278.9 386.8 1280.9 387.0 1282.9 C387.2 1284.9 387.5 1286.9 387.7 1288.9 C387.9 1290.9 388.1 1292.8 388.3 1294.8 C388.5 1296.8 388.8 1298.8 389.0 1300.8 C389.2 1302.8 389.4 1304.8 389.7 1306.8 C389.9 1308.8 390.1 1310.8 390.3 1312.8 C390.6 1314.8 390.8 1316.7 391.0 1318.7 C391.3 1320.7 391.5 1322.7 391.7 1324.7 C392.0 1326.7 392.2 1328.7 392.4 1330.7 C392.7 1332.7 392.9 1334.7 393.2 1336.7 C393.4 1338.6 393.6 1340.6 393.9 1342.6 C394.1 1344.6 394.4 1346.6 394.6 1348.6 C394.9 1350.6 395.1 1352.6 395.4 1354.6 C395.6 1356.6 395.9 1358.5 396.1 1360.5 C396.4 1362.5 396.6 1364.5 396.9 1366.5 C397.1 1368.5 397.4 1370.5 397.7 1372.5 C397.9 1374.5 398.2 1376.4 398.5 1378.4 C398.7 1380.4 399.0 1382.4 399.3 1384.4 C399.5 1386.4 399.8 1388.4 400.1 1390.4 C400.3 1392.3 400.6 1394.3 400.9 1396.3 C401.2 1398.3 401.4 1400.3 401.7 1402.3 C402.0 1404.2 402.3 1406.2 402.6 1408.2 C402.8 1410.2 403.1 1412.2 403.4 1414.2 C403.7 1416.1 404.0 1418.1 404.3 1420.1 C404.6 1422.1 404.9 1424.1 405.2 1426.0 C405.5 1428.0 405.8 1430.0 406.1 1432.0 C406.4 1434.0 406.7 1435.9 407.0 1437.9 C407.3 1439.9 407.6 1441.9 407.9 1443.8 C408.2 1445.8 408.5 1447.8 408.8 1449.8 C409.1 1451.7 409.4 1453.7 409.7 1455.7 C410.1 1457.7 410.4 1459.6 410.7 1461.6 C411.0 1463.6 411.4 1465.5 411.7 1467.5 C412.1 1469.4 412.5 1471.4 412.9 1473.4 C413.2 1475.3 413.6 1477.3 414.1 1479.2 C414.5 1481.2 414.9 1483.1 415.4 1485.0 C415.9 1487.0 416.4 1488.9 416.9 1490.8 C417.4 1492.8 418.0 1494.7 418.6 1496.6 C419.1 1498.5 419.8 1500.4 420.4 1502.3 C421.1 1504.2 421.8 1506.1 422.5 1508.0 C423.2 1509.9 424.0 1511.8 424.8 1513.6 C425.6 1515.5 426.5 1517.4 427.4 1519.2 C428.3 1521.1 429.3 1523.0 430.4 1524.8 C431.4 1526.7 432.5 1528.6 433.7 1530.4 C434.9 1532.3 436.1 1534.1 437.5 1535.8 C438.8 1537.4 440.2 1539.0 441.8 1540.1 C443.2 1541.1 444.9 1541.9 446.6 1542.3 C448.1 1542.6 449.9 1542.6 451.5 1542.3 C453.2 1542.0 454.9 1541.3 456.4 1540.5 C457.9 1539.7 459.4 1538.5 460.8 1537.3 C462.2 1536.0 463.5 1534.4 464.7 1532.9 C466.0 1531.2 467.2 1529.5 468.3 1527.7 C469.5 1525.8 470.5 1523.9 471.5 1522.0 C472.6 1520.0 473.5 1518.1 474.5 1516.1 C475.4 1514.1 476.3 1512.2 477.2 1510.2 C478.0 1508.3 478.9 1506.3 479.6 1504.4 C480.4 1502.4 481.2 1500.5 481.9 1498.5 C482.6 1496.6 483.3 1494.7 484.0 1492.7 C484.7 1490.8 485.3 1488.9 486.0 1486.9 C486.6 1485.0 487.2 1483.1 487.8 1481.1 C488.4 1479.2 489.0 1477.3 489.6 1475.4 C490.2 1473.5 490.7 1471.5 491.3 1469.6 C491.9 1467.7 492.4 1465.8 493.0 1463.9 C493.5 1462.0 494.1 1460.0 494.6 1458.1 C495.2 1456.2 495.7 1454.3 496.2 1452.4 C496.8 1450.5 497.3 1448.6 497.8 1446.6 C498.4 1444.7 498.9 1442.8 499.4 1440.9 C499.9 1439.0 500.4 1437.1 500.9 1435.1 C501.4 1433.2 501.9 1431.3 502.4 1429.4 C502.8 1427.5 503.3 1425.5 503.8 1423.6 C504.2 1421.7 504.7 1419.7 505.2 1417.8 C505.6 1415.9 506.0 1414.0 506.5 1412.0 C506.9 1410.1 507.3 1408.1 507.7 1406.2 C508.2 1404.3 508.6 1402.3 509.0 1400.4 C509.4 1398.4 509.8 1396.5 510.2 1394.6 C510.5 1392.6 510.9 1390.7 511.3 1388.7 C511.7 1386.7 512.1 1384.8 512.4 1382.8 C512.8 1380.9 513.2 1378.9 513.5 1377.0 C513.9 1375.0 514.2 1373.0 514.6 1371.1 C514.9 1369.1 515.3 1367.2 515.6 1365.2 C516.0 1363.2 516.3 1361.3 516.6 1359.3 C517.0 1357.3 517.3 1355.3 517.7 1353.4 C518.0 1351.4 518.3 1349.4 518.7 1347.5 C519.0 1345.5 519.3 1343.5 519.7 1341.5 C520.0 1339.5 520.3 1337.6 520.7 1335.6 C521.0 1333.6 521.3 1331.6 521.7 1329.6 C522.0 1327.7 522.3 1325.7 522.7 1323.7 C523.0 1321.7 523.3 1319.7 523.7 1317.7 C524.0 1315.7 524.3 1313.7 524.7 1311.8 C525.0 1309.8 525.4 1307.8 525.7 1305.8 C526.1 1303.8 526.4 1301.8 526.8 1299.8 C527.2 1297.8 527.5 1295.8 527.9 1293.8 C528.3 1291.8 528.6 1289.8 529.0 1287.8 C529.4 1285.8 529.8 1283.8 530.2 1281.8 C530.5 1279.8 530.9 1277.8 531.3 1275.8 C531.7 1273.8 532.1 1271.8 532.6 1269.8 C533.0 1267.8 533.4 1265.8 533.8 1263.8 C534.3 1261.9 534.7 1259.9 535.3 1257.9 C535.8 1256.0 536.3 1254.0 536.9 1252.1 C537.5 1250.2 538.1 1248.3 538.9 1246.5 C539.6 1244.7 540.4 1242.9 541.3 1241.2 C542.2 1239.4 543.1 1237.7 544.2 1236.1 C545.2 1234.6 546.2 1232.6 547.7 1231.8 C548.6 1231.2 550.5 1231.3 551.4 1232.0 C552.8 1233.0 553.7 1235.3 554.6 1237.0 C555.6 1239.2 556.3 1241.5 557.1 1243.8 C557.9 1245.9 558.6 1248.0 559.2 1250.1 C559.8 1252.1 560.4 1254.1 560.9 1256.1 C561.4 1258.0 561.9 1259.9 562.3 1261.9 C562.8 1263.8 563.2 1265.7 563.6 1267.6 C564.0 1269.5 564.3 1271.4 564.7 1273.3 C565.1 1275.2 565.4 1277.2 565.7 1279.1 C566.1 1281.0 566.4 1283.0 566.7 1284.9 C567.0 1286.9 567.3 1288.8 567.6 1290.8 C567.8 1292.7 568.1 1294.7 568.4 1296.6 C568.6 1298.6 568.9 1300.6 569.1 1302.5 C569.3 1304.5 569.6 1306.5 569.8 1308.5 C570.0 1310.5 570.2 1312.4 570.4 1314.4 C570.6 1316.4 570.8 1318.4 571.0 1320.4 C571.2 1322.4 571.4 1324.4 571.6 1326.4 C571.8 1328.4 571.9 1330.4 572.1 1332.4 C572.3 1334.4 572.5 1336.4 572.7 1338.4 C572.8 1340.4 573.0 1342.4 573.2 1344.4 C573.4 1346.4 573.5 1348.4 573.7 1350.4 C573.9 1352.4 574.1 1354.5 574.2 1356.5 C574.4 1358.5 574.6 1360.5 574.8 1362.5 C575.0 1364.5 575.2 1366.5 575.4 1368.5 C575.6 1370.5 575.8 1372.5 576.0 1374.5 C576.2 1376.5 576.4 1378.5 576.6 1380.5 C576.8 1382.5 577.1 1384.5 577.3 1386.5 C577.5 1388.5 577.8 1390.5 578.0 1392.5 C578.3 1394.5 578.5 1396.5 578.8 1398.5 C579.0 1400.5 579.3 1402.5 579.6 1404.5 C579.8 1406.5 580.1 1408.5 580.4 1410.5 C580.7 1412.5 581.0 1414.4 581.3 1416.4 C581.6 1418.4 581.9 1420.4 582.2 1422.4 C582.5 1424.4 582.8 1426.3 583.1 1428.3 C583.4 1430.3 583.7 1432.3 584.0 1434.2 C584.3 1436.2 584.7 1438.2 585.0 1440.2 C585.3 1442.1 585.6 1444.1 586.0 1446.1 C586.3 1448.1 586.7 1450.0 587.0 1452.0 C587.3 1454.0 587.7 1455.9 588.0 1457.9 C588.4 1459.9 588.7 1461.8 589.1 1463.8 C589.4 1465.8 589.8 1467.7 590.2 1469.7 C590.5 1471.6 590.9 1473.6 591.2 1475.6 C591.6 1477.5 592.0 1479.5 592.3 1481.4 C592.7 1483.4 593.1 1485.3 593.5 1487.3 C593.8 1489.2 594.2 1491.2 594.6 1493.1 C595.0 1495.1 595.4 1497.0 595.8 1499.0 C596.1 1500.9 596.5 1502.9 597.0 1504.8 C597.4 1506.8 597.8 1508.7 598.2 1510.6 C598.6 1512.6 599.0 1514.5 599.5 1516.5 C599.9 1518.4 600.3 1520.3 600.8 1522.3 C601.3 1524.2 601.7 1526.2 602.2 1528.1 C602.7 1530.0 603.2 1532.0 603.7 1533.9 C604.1 1535.8 604.7 1537.8 605.2 1539.7 C605.7 1541.6 606.2 1543.5 606.8 1545.5 C607.3 1547.4 607.9 1549.3 608.5 1551.2 C609.1 1553.2 609.7 1555.1 610.3 1557.0 C610.9 1558.9 611.5 1560.9 612.2 1562.8 C612.8 1564.7 613.5 1566.6 614.2 1568.5 C614.8 1570.4 615.5 1572.4 616.3 1574.3 C617.0 1576.2 617.4 1578.3 618.5 1580.0 C621.3 1584.5 624.3 1589.3 628.0 1593.0 C630.8 1595.8 634.4 1597.8 638.0 1599.5 C641.8 1601.3 645.9 1602.8 650.0 1603.5 C659.9 1605.3 670.0 1605.9 680.0 1607.0 C690.0 1608.1 700.0 1609.1 710.0 1610.0 C728.3 1611.6 746.6 1613.6 765.0 1614.5 C795.3 1616.0 825.7 1616.7 856.0 1617.3 C899.0 1618.2 942.0 1618.8 985.0 1619.2 C1090.0 1620.3 1195.0 1621.1 1300.0 1621.8 C1366.7 1622.3 1433.3 1622.6 1500.0 1622.8 C1691.3 1623.5 1882.7 1623.7 2074.0 1624.5 C2116.0 1624.7 2158.0 1625.4 2200.0 1625.6 C2264.7 1625.9 2329.3 1625.9 2394.0 1626.0"/>
<path stroke="#1eeeee" d="M289.5 645.0 C289.5 647.0 289.4 649.0 289.4 651.1 C289.3 653.1 289.3 655.1 289.3 657.1 C289.2 659.1 289.2 661.1 289.2 663.2 C289.2 665.2 289.1 667.2 289.1 669.2 C289.1 671.2 289.1 673.2 289.1 675.2 C289.1 677.3 289.2 679.3 289.2 681.3 C289.2 683.3 289.2 685.3 289.2 687.3 C289.3 689.3 289.3 691.3 289.3 693.3 C289.4 695.4 289.4 697.4 289.5 699.4 C289.5 701.4 289.6 703.4 289.6 705.4 C289.7 707.4 289.8 709.4 289.8 711.4 C289.9 713.4 290.0 715.4 290.0 717.4 C290.1 719.4 290.2 721.4 290.3 723.4 C290.4 725.4 290.5 727.4 290.6 729.5 C290.7 731.5 290.8 733.5 290.9 735.5 C291.0 737.5 291.1 739.5 291.2 741.5 C291.4 743.5 291.5 745.5 291.6 747.5 C291.7 749.5 291.9 751.5 292.0 753.5 C292.2 755.5 292.3 757.5 292.4 759.4 C292.6 761.4 292.7 763.4 292.9 765.4 C293.0 767.4 293.2 769.4 293.4 771.4 C293.5 773.4 293.7 775.4 293.9 777.4 C294.0 779.4 294.2 781.4 294.4 783.4 C294.6 785.4 294.8 787.4 295.0 789.4 C295.1 791.4 295.3 793.4 295.5 795.4 C295.7 797.3 295.9 799.3 296.1 801.3 C296.3 803.3 296.5 805.3 296.8 807.3 C297.0 809.3 297.2 811.3 297.4 813.3 C297.6 815.3 297.8 817.3 298.1 819.2 C298.3 821.2 298.5 823.2 298.7 825.2 C299.0 827.2 299.2 829.2 299.5 831.2 C299.7 833.2 299.9 835.1 300.2 837.1 C300.4 839.1 300.7 841.1 300.9 843.1 C301.2 845.1 301.4 847.1 301.7 849.1 C301.9 851.0 302.2 853.0 302.5 855.0 C302.7 857.0 303.0 859.0 303.3 861.0 C303.5 862.9 303.8 864.9 304.1 866.9 C304.4 868.9 304.6 870.9 304.9 872.9 C305.2 874.9 305.5 876.8 305.8 878.8 C306.1 880.8 306.3 882.8 306.6 884.8 C306.9 886.8 307.2 888.7 307.5 890.7 C307.8 892.7 308.1 894.7 308.4 896.7 C308.7 898.6 309.0 900.6 309.3 902.6 C309.6 904.6 309.9 906.6 310.2 908.6 C310.5 910.5 310.9 912.5 311.2 914.5 C311.5 916.5 311.8 918.5 312.1 920.4 C312.4 922.4 312.7 924.4 313.1 926.4 C313.4 928.4 313.7 930.3 314.0 932.3 C314.4 934.3 314.7 936.3 315.0 938.3 C315.3 940.2 315.7 942.2 316.0 944.2 C316.3 946.2 316.7 948.2 317.0 950.1 C317.3 952.1 317.7 954.1 318.0 956.1 C318.3 958.1 318.7 960.0 319.0 962.0 C319.3 964.0 319.7 966.0 320.0 967.9 C320.3 969.9 320.7 971.9 321.0 973.9 C321.4 975.9 321.7 977.8 322.0 979.8 C322.4 981.8 322.7 983.8 323.1 985.8 C323.4 987.7 323.8 989.7 324.1 991.7 C324.4 993.7 324.8 995.6 325.1 997.6 C325.5 999.6 325.8 1001.6 326.2 1003.6 C326.5 1005.5 326.8 1007.5 327.2 1009.5 C327.5 1011.5 327.9 1013.5 328.2 1015.4 C328.6 1017.4 328.9 1019.4 329.2 1021.4 C329.6 1023.4 329.9 1025.3 330.3 1027.3 C330.6 1029.3 330.9 1031.3 331.3 1033.2 C331.6 1035.2 332.0 1037.2 332.3 1039.2 C332.6 1041.2 333.0 1043.1 333.3 1045.1 C333.7 1047.1 334.0 1049.1 334.3 1051.1 C334.7 1053.0 335.0 1055.0 335.3 1057.0 C335.7 1059.0 336.0 1061.0 336.3 1062.9 C336.6 1064.9 337.0 1066.9 337.3 1068.9 C337.6 1070.9 338.0 1072.8 338.3 1074.8 C338.6 1076.8 338.9 1078.8 339.2 1080.8 C339.6 1082.8 339.9 1084.7 340.2 1086.7 C340.5 1088.7 340.8 1090.7 341.1 1092.7 C341.5 1094.6 341.8 1096.6 342.1 1098.6 C342.4 1100.6 342.7 1102.6 343.0 1104.6 C343.3 1106.5 343.6 1108.5 343.9 1110.5 C344.2 1112.5 344.5 1114.5 344.8 1116.5 C345.1 1118.4 345.4 1120.4 345.7 1122.4 C346.0 1124.4 346.3 1126.4 346.5 1128.4 C346.8 1130.3 347.1 1132.3 347.4 1134.3 C347.7 1136.3 347.9 1138.3 348.2 1140.3 C348.5 1142.3 348.7 1144.3 349.0 1146.2 C349.3 1148.2 349.5 1150.2 349.8 1152.2 C350.1 1154.2 350.3 1156.2 350.6 1158.2 C350.8 1160.1 351.1 1162.1 351.3 1164.1 C351.6 1166.1 351.8 1168.1 352.1 1170.1 C352.3 1172.1 352.6 1174.1 352.8 1176.1 C353.1 1178.0 353.3 1180.0 353.6 1182.0 C353.8 1184.0 354.0 1186.0 354.3 1188.0 C354.5 1190.0 354.7 1192.0 355.0 1194.0 C355.2 1196.0 355.4 1197.9 355.7 1199.9 C355.9 1201.9 356.1 1203.9 356.3 1205.9 C356.6 1207.9 356.8 1209.9 357.0 1211.9 C357.2 1213.9 357.5 1215.9 357.7 1217.9 C357.9 1219.8 358.1 1221.8 358.3 1223.8 C358.6 1225.8 358.8 1227.8 359.0 1229.8 C359.2 1231.8 359.4 1233.8 359.7 1235.8 C359.9 1237.8 360.1 1239.8 360.3 1241.8 C360.5 1243.8 360.7 1245.7 361.0 1247.7 C361.2 1249.7 361.4 1251.7 361.6 1253.7 C361.8 1255.7 362.0 1257.7 362.2 1259.7 C362.5 1261.7 362.7 1263.7 362.9 1265.7 C363.1 1267.7 363.3 1269.7 363.5 1271.7 C363.7 1273.6 364.0 1275.6 364.2 1277.6 C364.4 1279.6 364.6 1281.6 364.8 1283.6 C365.0 1285.6 365.2 1287.6 365.5 1289.6 C365.7 1291.6 365.9 1293.6 366.1 1295.6 C366.3 1297.6 366.6 1299.6 366.8 1301.5 C367.0 1303.5 367.2 1305.5 367.4 1307.5 C367.7 1309.5 367.9 1311.5 368.1 1313.5 C368.3 1315.5 368.6 1317.5 368.8 1319.5 C369.0 1321.5 369.3 1323.5 369.5 1325.5 C369.7 1327.5 369.9 1329.4 370.2 1331.4 C370.4 1333.4 370.7 1335.4 370.9 1337.4 C371.1 1339.4 371.4 1341.4 371.6 1343.4 C371.9 1345.4 372.1 1347.4 372.3 1349.4 C372.6 1351.4 372.8 1353.4 373.1 1355.3 C373.3 1357.3 373.6 1359.3 373.8 1361.3 C374.1 1363.3 374.3 1365.3 374.6 1367.3 C374.9 1369.3 375.1 1371.3 375.4 1373.3 C375.7 1375.3 375.9 1377.2 376.2 1379.2 C376.5 1381.2 376.7 1383.2 377.0 1385.2 C377.3 1387.2 377.6 1389.2 377.9 1391.2 C378.1 1393.2 378.4 1395.2 378.7 1397.1 C379.0 1399.1 379.3 1401.1 379.6 1403.1 C379.9 1405.1 380.2 1407.1 380.5 1409.1 C380.8 1411.1 381.1 1413.0 381.4 1415.0 C381.7 1417.0 382.0 1419.0 382.3 1421.0 C382.6 1423.0 382.9 1425.0 383.3 1426.9 C383.6 1428.9 383.9 1430.9 384.2 1432.9 C384.6 1434.9 384.9 1436.8 385.2 1438.8 C385.6 1440.8 385.9 1442.8 386.3 1444.8 C386.6 1446.7 387.0 1448.7 387.3 1450.7 C387.7 1452.7 388.0 1454.6 388.4 1456.6 C388.7 1458.6 389.1 1460.6 389.5 1462.5 C389.8 1464.5 390.2 1466.5 390.6 1468.5 C391.0 1470.4 391.4 1472.4 391.7 1474.4 C392.1 1476.3 392.5 1478.3 392.9 1480.3 C393.3 1482.2 393.7 1484.2 394.1 1486.1 C394.5 1488.1 394.9 1490.1 395.3 1492.0 C395.8 1494.0 396.2 1495.9 396.6 1497.9 C397.0 1499.8 397.5 1501.8 397.9 1503.8 C398.3 1505.7 398.8 1507.7 399.2 1509.6 C399.6 1511.6 400.1 1513.5 400.6 1515.4 C401.0 1517.4 401.5 1519.3 401.9 1521.3 C402.4 1523.2 402.9 1525.2 403.3 1527.1 C403.8 1529.0 404.3 1531.0 404.8 1532.9 C405.3 1534.8 405.8 1536.8 406.3 1538.7 C406.8 1540.6 407.2 1542.6 407.8 1544.5 C408.3 1546.4 408.8 1548.3 409.4 1550.2 C410.0 1552.2 410.6 1554.1 411.2 1556.0 C411.9 1557.9 412.5 1559.7 413.3 1561.6 C414.1 1563.5 414.9 1565.4 415.7 1567.2 C416.7 1569.0 417.6 1570.9 418.7 1572.6 C419.7 1574.5 420.9 1576.3 422.1 1578.0 C423.4 1579.8 424.7 1581.6 426.2 1583.2 C427.6 1584.8 429.2 1586.4 430.8 1587.8 C432.3 1589.1 434.0 1590.4 435.8 1591.3 C437.4 1592.2 439.1 1592.9 440.9 1593.3 C442.6 1593.7 444.4 1593.9 446.2 1593.8 C447.9 1593.8 449.7 1593.5 451.5 1593.1 C453.3 1592.7 455.0 1592.1 456.7 1591.4 C458.5 1590.6 460.3 1589.7 461.9 1588.7 C463.7 1587.7 465.3 1586.5 466.9 1585.3 C468.6 1584.1 470.2 1582.7 471.7 1581.4 C473.3 1580.0 474.8 1578.5 476.3 1577.0 C477.7 1575.5 479.1 1574.0 480.4 1572.4 C481.8 1570.8 483.1 1569.2 484.3 1567.6 C485.6 1565.9 486.8 1564.2 487.9 1562.5 C489.1 1560.8 490.2 1559.1 491.2 1557.3 C492.3 1555.6 493.3 1553.8 494.3 1552.0 C495.3 1550.2 496.3 1548.4 497.2 1546.6 C498.1 1544.8 499.0 1542.9 499.8 1541.1 C500.7 1539.3 501.5 1537.4 502.3 1535.6 C503.1 1533.7 503.9 1531.9 504.6 1530.1 C505.4 1528.2 506.1 1526.4 506.8 1524.6 C507.5 1522.8 508.2 1521.0 508.8 1519.1 C509.5 1517.3 510.1 1515.5 510.8 1513.7 C511.4 1511.9 512.0 1510.1 512.6 1508.2 C513.2 1506.4 513.8 1504.6 514.4 1502.7 C515.0 1500.9 515.6 1499.0 516.2 1497.2 C516.8 1495.3 517.4 1493.4 517.9 1491.5 C518.5 1489.6 519.1 1487.6 519.7 1485.7 C520.2 1483.7 520.8 1481.8 521.4 1479.8 C522.0 1477.8 522.6 1475.8 523.2 1473.7 C523.8 1471.7 524.5 1469.7 525.2 1467.7 C525.8 1465.6 526.5 1463.6 527.3 1461.6 C528.0 1459.7 528.8 1457.7 529.7 1455.8 C530.6 1453.9 531.5 1452.0 532.5 1450.1 C533.5 1448.3 534.5 1446.6 535.7 1444.9 C536.8 1443.2 538.0 1441.6 539.4 1440.0 C540.7 1438.5 542.0 1436.9 543.6 1435.7 C545.0 1434.7 546.7 1433.5 548.3 1433.3 C549.8 1433.2 551.6 1434.0 552.9 1434.9 C554.4 1435.9 555.7 1437.6 556.7 1439.2 C557.9 1440.9 558.7 1442.8 559.5 1444.7 C560.4 1446.7 561.1 1448.8 561.8 1450.9 C562.5 1452.9 563.1 1455.0 563.7 1457.1 C564.4 1459.1 565.0 1461.2 565.6 1463.2 C566.2 1465.2 566.7 1467.2 567.3 1469.2 C567.9 1471.2 568.4 1473.2 569.0 1475.2 C569.5 1477.1 570.0 1479.1 570.5 1481.0 C571.1 1483.0 571.6 1484.9 572.1 1486.8 C572.6 1488.7 573.1 1490.6 573.6 1492.5 C574.1 1494.4 574.7 1496.3 575.2 1498.2 C575.7 1500.1 576.2 1502.0 576.7 1503.9 C577.3 1505.7 577.8 1507.6 578.3 1509.5 C578.9 1511.3 579.4 1513.2 580.0 1515.1 C580.6 1516.9 581.2 1518.8 581.8 1520.6 C582.4 1522.5 583.0 1524.4 583.7 1526.2 C584.3 1528.1 585.0 1529.9 585.7 1531.8 C586.3 1533.7 587.1 1535.5 587.8 1537.4 C588.5 1539.3 589.2 1541.2 589.9 1543.0 C590.7 1544.9 591.4 1546.8 592.1 1548.7 C592.8 1550.6 593.5 1552.5 594.2 1554.4 C594.8 1556.4 595.5 1558.3 596.1 1560.2 C596.7 1562.2 597.2 1564.1 597.8 1566.1 C598.3 1568.0 598.8 1570.0 599.2 1572.0 C599.6 1574.0 599.5 1576.1 600.2 1578.0 C602.6 1584.7 605.1 1591.5 608.5 1597.8 C611.2 1602.9 614.4 1608.0 618.4 1612.0 C621.5 1615.1 626.0 1617.1 630.0 1619.0 C632.4 1620.1 635.1 1620.8 637.8 1621.2 C645.1 1622.2 652.6 1622.7 660.0 1623.2 C673.3 1624.1 686.7 1624.9 700.0 1625.2 C726.7 1625.8 753.3 1625.8 780.0 1626.0 C811.7 1626.2 843.3 1626.4 875.0 1626.5 C1083.3 1627.1 1291.7 1627.5 1500.0 1628.0 C1798.0 1628.7 2096.0 1629.3 2394.0 1630.0"/>
<path stroke="#ee0af0" d="M289.5 90.0 C289.5 92.0 289.5 94.0 289.5 96.0 C289.4 98.0 289.4 100.1 289.4 102.1 C289.4 104.1 289.4 106.1 289.4 108.1 C289.4 110.1 289.4 112.1 289.4 114.1 C289.4 116.1 289.4 118.1 289.4 120.1 C289.4 122.1 289.4 124.1 289.4 126.1 C289.4 128.1 289.4 130.1 289.4 132.1 C289.4 134.1 289.4 136.1 289.4 138.1 C289.4 140.1 289.4 142.1 289.4 144.2 C289.4 146.2 289.5 148.2 289.5 150.2 C289.5 152.2 289.5 154.2 289.5 156.2 C289.5 158.2 289.5 160.2 289.5 162.2 C289.6 164.2 289.6 166.2 289.6 168.2 C289.6 170.2 289.6 172.2 289.6 174.2 C289.7 176.2 289.7 178.2 289.7 180.2 C289.7 182.2 289.8 184.2 289.8 186.2 C289.8 188.2 289.8 190.2 289.9 192.2 C289.9 194.2 289.9 196.2 290.0 198.2 C290.0 200.2 290.0 202.2 290.1 204.3 C290.1 206.3 290.1 208.3 290.2 210.3 C290.2 212.3 290.2 214.3 290.3 216.3 C290.3 218.3 290.4 220.3 290.4 222.3 C290.4 224.3 290.5 226.3 290.5 228.3 C290.6 230.3 290.6 232.3 290.7 234.3 C290.7 236.3 290.8 238.3 290.8 240.3 C290.9 242.3 290.9 244.3 291.0 246.3 C291.0 248.3 291.1 250.3 291.1 252.3 C291.2 254.3 291.2 256.3 291.3 258.3 C291.4 260.3 291.4 262.3 291.5 264.3 C291.6 266.3 291.6 268.3 291.7 270.3 C291.7 272.3 291.8 274.3 291.9 276.3 C291.9 278.3 292.0 280.3 292.1 282.3 C292.2 284.3 292.2 286.3 292.3 288.3 C292.4 290.3 292.5 292.3 292.5 294.3 C292.6 296.3 292.7 298.3 292.8 300.3 C292.9 302.3 292.9 304.3 293.0 306.3 C293.1 308.3 293.2 310.3 293.3 312.3 C293.4 314.3 293.5 316.3 293.5 318.3 C293.6 320.3 293.7 322.3 293.8 324.3 C293.9 326.3 294.0 328.3 294.1 330.3 C294.2 332.3 294.3 334.3 294.4 336.3 C294.5 338.3 294.6 340.3 294.7 342.3 C294.8 344.3 294.9 346.3 295.0 348.3 C295.1 350.3 295.2 352.3 295.4 354.3 C295.5 356.3 295.6 358.3 295.7 360.3 C295.8 362.3 295.9 364.3 296.0 366.3 C296.2 368.3 296.3 370.3 296.4 372.3 C296.5 374.3 296.7 376.3 296.8 378.3 C296.9 380.3 297.0 382.3 297.2 384.3 C297.3 386.3 297.4 388.3 297.5 390.3 C297.7 392.3 297.8 394.3 298.0 396.3 C298.1 398.3 298.2 400.3 298.4 402.3 C298.5 404.3 298.6 406.3 298.8 408.3 C298.9 410.3 299.1 412.3 299.2 414.3 C299.4 416.3 299.5 418.2 299.7 420.2 C299.8 422.2 300.0 424.2 300.1 426.2 C300.3 428.2 300.4 430.2 300.6 432.2 C300.8 434.2 300.9 436.2 301.1 438.2 C301.3 440.2 301.4 442.2 301.6 444.2 C301.8 446.2 301.9 448.2 302.1 450.2 C302.3 452.2 302.4 454.2 302.6 456.2 C302.8 458.2 303.0 460.2 303.1 462.2 C303.3 464.2 303.5 466.2 303.7 468.2 C303.9 470.2 304.1 472.2 304.2 474.2 C304.4 476.2 304.6 478.2 304.8 480.2 C305.0 482.2 305.2 484.2 305.4 486.2 C305.6 488.2 305.8 490.1 306.0 492.1 C306.2 494.1 306.4 496.1 306.6 498.1 C306.8 500.1 307.0 502.1 307.2 504.1 C307.4 506.1 307.6 508.1 307.8 510.1 C308.0 512.1 308.2 514.1 308.5 516.1 C308.7 518.1 308.9 520.1 309.1 522.1 C309.3 524.1 309.5 526.1 309.7 528.1 C310.0 530.1 310.2 532.1 310.4 534.1 C310.6 536.1 310.9 538.1 311.1 540.1 C311.3 542.0 311.5 544.0 311.8 546.0 C312.0 548.0 312.2 550.0 312.4 552.0 C312.7 554.0 312.9 556.0 313.1 558.0 C313.4 560.0 313.6 562.0 313.8 564.0 C314.0 566.0 314.3 568.0 314.5 570.0 C314.7 572.0 315.0 574.0 315.2 576.0 C315.5 578.0 315.7 580.0 315.9 582.0 C316.2 584.0 316.4 585.9 316.6 587.9 C316.9 589.9 317.1 591.9 317.4 593.9 C317.6 595.9 317.8 597.9 318.1 599.9 C318.3 601.9 318.6 603.9 318.8 605.9 C319.0 607.9 319.3 609.9 319.5 611.9 C319.8 613.9 320.0 615.9 320.3 617.9 C320.5 619.9 320.7 621.9 321.0 623.9 C321.2 625.8 321.5 627.8 321.7 629.8 C321.9 631.8 322.2 633.8 322.4 635.8 C322.7 637.8 322.9 639.8 323.2 641.8 C323.4 643.8 323.7 645.8 323.9 647.8 C324.1 649.8 324.4 651.8 324.6 653.8 C324.9 655.8 325.1 657.8 325.3 659.8 C325.6 661.7 325.8 663.7 326.1 665.7 C326.3 667.7 326.5 669.7 326.8 671.7 C327.0 673.7 327.3 675.7 327.5 677.7 C327.7 679.7 328.0 681.7 328.2 683.7 C328.5 685.7 328.7 687.7 328.9 689.7 C329.2 691.7 329.4 693.7 329.6 695.6 C329.9 697.6 330.1 699.6 330.3 701.6 C330.6 703.6 330.8 705.6 331.0 707.6 C331.3 709.6 331.5 711.6 331.7 713.6 C332.0 715.6 332.2 717.6 332.4 719.6 C332.6 721.6 332.9 723.6 333.1 725.6 C333.3 727.6 333.5 729.5 333.8 731.5 C334.0 733.5 334.2 735.5 334.4 737.5 C334.6 739.5 334.9 741.5 335.1 743.5 C335.3 745.5 335.5 747.5 335.7 749.5 C335.9 751.5 336.1 753.5 336.4 755.5 C336.6 757.5 336.8 759.4 337.0 761.4 C337.2 763.4 337.4 765.4 337.6 767.4 C337.8 769.4 338.0 771.4 338.2 773.4 C338.4 775.4 338.6 777.4 338.8 779.4 C339.0 781.4 339.2 783.4 339.4 785.4 C339.6 787.4 339.8 789.3 340.0 791.3 C340.2 793.3 340.4 795.3 340.5 797.3 C340.7 799.3 340.9 801.3 341.1 803.3 C341.3 805.3 341.5 807.3 341.7 809.3 C341.8 811.3 342.0 813.3 342.2 815.3 C342.4 817.3 342.6 819.2 342.7 821.2 C342.9 823.2 343.1 825.2 343.3 827.2 C343.5 829.2 343.6 831.2 343.8 833.2 C344.0 835.2 344.1 837.2 344.3 839.2 C344.5 841.2 344.7 843.2 344.8 845.2 C345.0 847.2 345.2 849.1 345.3 851.1 C345.5 853.1 345.7 855.1 345.8 857.1 C346.0 859.1 346.2 861.1 346.3 863.1 C346.5 865.1 346.6 867.1 346.8 869.1 C347.0 871.1 347.1 873.1 347.3 875.1 C347.4 877.0 347.6 879.0 347.7 881.0 C347.9 883.0 348.1 885.0 348.2 887.0 C348.4 889.0 348.5 891.0 348.7 893.0 C348.8 895.0 349.0 897.0 349.1 899.0 C349.3 901.0 349.4 903.0 349.6 904.9 C349.7 906.9 349.9 908.9 350.0 910.9 C350.2 912.9 350.3 914.9 350.5 916.9 C350.6 918.9 350.8 920.9 350.9 922.9 C351.1 924.9 351.2 926.9 351.3 928.9 C351.5 930.9 351.6 932.8 351.8 934.8 C351.9 936.8 352.1 938.8 352.2 940.8 C352.4 942.8 352.5 944.8 352.6 946.8 C352.8 948.8 352.9 950.8 353.1 952.8 C353.2 954.8 353.3 956.8 353.5 958.8 C353.6 960.7 353.8 962.7 353.9 964.7 C354.0 966.7 354.2 968.7 354.3 970.7 C354.4 972.7 354.6 974.7 354.7 976.7 C354.9 978.7 355.0 980.7 355.1 982.7 C355.3 984.7 355.4 986.7 355.5 988.6 C355.7 990.6 355.8 992.6 356.0 994.6 C356.1 996.6 356.2 998.6 356.4 1000.6 C356.5 1002.6 356.6 1004.6 356.8 1006.6 C356.9 1008.6 357.0 1010.6 357.2 1012.6 C357.3 1014.6 357.4 1016.5 357.6 1018.5 C357.7 1020.5 357.8 1022.5 358.0 1024.5 C358.1 1026.5 358.3 1028.5 358.4 1030.5 C358.5 1032.5 358.7 1034.5 358.8 1036.5 C358.9 1038.5 359.1 1040.5 359.2 1042.5 C359.3 1044.4 359.5 1046.4 359.6 1048.4 C359.7 1050.4 359.9 1052.4 360.0 1054.4 C360.1 1056.4 360.3 1058.4 360.4 1060.4 C360.6 1062.4 360.7 1064.4 360.8 1066.4 C361.0 1068.4 361.1 1070.4 361.2 1072.4 C361.4 1074.3 361.5 1076.3 361.7 1078.3 C361.8 1080.3 361.9 1082.3 362.1 1084.3 C362.2 1086.3 362.4 1088.3 362.5 1090.3 C362.6 1092.3 362.8 1094.3 362.9 1096.3 C363.1 1098.3 363.2 1100.3 363.3 1102.2 C363.5 1104.2 363.6 1106.2 363.8 1108.2 C363.9 1110.2 364.1 1112.2 364.2 1114.2 C364.3 1116.2 364.5 1118.2 364.6 1120.2 C364.8 1122.2 364.9 1124.2 365.1 1126.2 C365.2 1128.2 365.4 1130.2 365.5 1132.1 C365.7 1134.1 365.8 1136.1 366.0 1138.1 C366.1 1140.1 366.2 1142.1 366.4 1144.1 C366.5 1146.1 366.7 1148.1 366.9 1150.1 C367.0 1152.1 367.2 1154.1 367.3 1156.1 C367.5 1158.1 367.6 1160.1 367.8 1162.1 C367.9 1164.0 368.1 1166.0 368.2 1168.0 C368.4 1170.0 368.6 1172.0 368.7 1174.0 C368.9 1176.0 369.0 1178.0 369.2 1180.0 C369.4 1182.0 369.5 1184.0 369.7 1186.0 C369.8 1188.0 370.0 1190.0 370.2 1192.0 C370.3 1193.9 370.5 1195.9 370.7 1197.9 C370.8 1199.9 371.0 1201.9 371.2 1203.9 C371.4 1205.9 371.5 1207.9 371.7 1209.9 C371.9 1211.9 372.0 1213.9 372.2 1215.9 C372.4 1217.9 372.6 1219.9 372.7 1221.9 C372.9 1223.9 373.1 1225.9 373.3 1227.8 C373.5 1229.8 373.6 1231.8 373.8 1233.8 C374.0 1235.8 374.2 1237.8 374.4 1239.8 C374.6 1241.8 374.7 1243.8 374.9 1245.8 C375.1 1247.8 375.3 1249.8 375.5 1251.8 C375.7 1253.8 375.9 1255.8 376.1 1257.8 C376.3 1259.8 376.5 1261.7 376.6 1263.7 C376.8 1265.7 377.0 1267.7 377.2 1269.7 C377.4 1271.7 377.6 1273.7 377.8 1275.7 C378.0 1277.7 378.3 1279.7 378.5 1281.7 C378.7 1283.7 378.9 1285.7 379.1 1287.7 C379.3 1289.7 379.5 1291.7 379.7 1293.7 C379.9 1295.7 380.1 1297.7 380.4 1299.6 C380.6 1301.6 380.8 1303.6 381.0 1305.6 C381.2 1307.6 381.4 1309.6 381.7 1311.6 C381.9 1313.6 382.1 1315.6 382.3 1317.6 C382.6 1319.6 382.8 1321.6 383.0 1323.6 C383.3 1325.6 383.5 1327.6 383.7 1329.6 C384.0 1331.6 384.2 1333.6 384.4 1335.6 C384.7 1337.6 384.9 1339.5 385.2 1341.5 C385.4 1343.5 385.6 1345.5 385.9 1347.5 C386.1 1349.5 386.4 1351.5 386.6 1353.5 C386.9 1355.5 387.1 1357.5 387.4 1359.5 C387.6 1361.5 387.9 1363.5 388.2 1365.5 C388.4 1367.5 388.7 1369.5 388.9 1371.5 C389.2 1373.5 389.5 1375.5 389.7 1377.5 C390.0 1379.5 390.3 1381.5 390.5 1383.5 C390.8 1385.4 391.1 1387.4 391.4 1389.4 C391.6 1391.4 391.9 1393.4 392.2 1395.4 C392.5 1397.4 392.8 1399.4 393.1 1401.4 C393.3 1403.4 393.6 1405.4 393.9 1407.4 C394.2 1409.4 394.5 1411.4 394.8 1413.4 C395.1 1415.4 395.4 1417.4 395.7 1419.4 C396.0 1421.4 396.3 1423.4 396.6 1425.4 C396.9 1427.4 397.2 1429.4 397.5 1431.4 C397.8 1433.4 398.2 1435.4 398.5 1437.3 C398.8 1439.3 399.1 1441.3 399.5 1443.3 C399.8 1445.3 400.1 1447.3 400.5 1449.3 C400.8 1451.3 401.2 1453.3 401.6 1455.3 C401.9 1457.3 402.3 1459.2 402.7 1461.2 C403.0 1463.2 403.4 1465.2 403.8 1467.2 C404.2 1469.2 404.6 1471.1 405.0 1473.1 C405.4 1475.1 405.9 1477.1 406.3 1479.0 C406.7 1481.0 407.2 1483.0 407.7 1484.9 C408.1 1486.9 408.6 1488.9 409.1 1490.8 C409.6 1492.8 410.0 1494.7 410.6 1496.7 C411.1 1498.6 411.6 1500.6 412.1 1502.5 C412.7 1504.5 413.2 1506.4 413.8 1508.4 C414.4 1510.3 415.0 1512.2 415.6 1514.2 C416.2 1516.1 416.8 1518.0 417.4 1520.0 C418.0 1521.9 418.7 1523.8 419.4 1525.7 C420.0 1527.6 420.7 1529.5 421.4 1531.4 C422.1 1533.3 422.9 1535.2 423.6 1537.1 C424.3 1539.0 425.1 1540.9 425.9 1542.8 C426.7 1544.6 427.5 1546.5 428.5 1548.3 C429.4 1550.0 430.4 1551.7 431.7 1553.2 C432.9 1554.7 434.4 1556.2 435.9 1557.3 C437.6 1558.5 439.5 1559.4 441.4 1560.1 C443.3 1560.8 445.3 1561.2 447.3 1561.3 C449.1 1561.3 451.0 1561.0 452.7 1560.5 C454.4 1560.0 456.1 1559.1 457.6 1558.1 C459.3 1557.1 460.7 1555.8 462.1 1554.5 C463.6 1553.1 464.9 1551.5 466.2 1549.9 C467.6 1548.3 468.8 1546.6 470.0 1544.9 C471.3 1543.2 472.5 1541.5 473.6 1539.7 C474.8 1537.9 475.9 1536.1 477.0 1534.3 C478.0 1532.5 479.1 1530.7 480.1 1528.9 C481.1 1527.1 482.1 1525.3 483.0 1523.5 C484.0 1521.7 484.9 1519.9 485.8 1518.1 C486.7 1516.3 487.5 1514.5 488.4 1512.7 C489.2 1510.9 490.0 1509.1 490.8 1507.3 C491.6 1505.5 492.3 1503.7 493.1 1501.8 C493.8 1500.0 494.5 1498.2 495.2 1496.3 C495.9 1494.5 496.6 1492.6 497.3 1490.7 C497.9 1488.8 498.6 1487.0 499.2 1485.1 C499.8 1483.2 500.4 1481.3 501.0 1479.4 C501.6 1477.5 502.2 1475.6 502.8 1473.7 C503.4 1471.7 504.0 1469.8 504.5 1467.9 C505.1 1466.0 505.7 1464.1 506.2 1462.1 C506.8 1460.2 507.3 1458.3 507.9 1456.3 C508.4 1454.4 509.0 1452.5 509.5 1450.5 C510.0 1448.6 510.6 1446.7 511.1 1444.7 C511.6 1442.8 512.2 1440.8 512.7 1438.9 C513.2 1437.0 513.7 1435.0 514.2 1433.1 C514.8 1431.1 515.3 1429.2 515.8 1427.2 C516.3 1425.3 516.8 1423.3 517.3 1421.4 C517.8 1419.4 518.3 1417.5 518.8 1415.5 C519.3 1413.6 519.7 1411.6 520.2 1409.7 C520.7 1407.8 521.2 1405.8 521.7 1403.9 C522.1 1401.9 522.6 1400.0 523.1 1398.0 C523.5 1396.1 524.0 1394.1 524.4 1392.2 C524.9 1390.2 525.3 1388.3 525.8 1386.4 C526.2 1384.4 526.7 1382.5 527.1 1380.5 C527.5 1378.6 528.0 1376.7 528.4 1374.7 C528.8 1372.8 529.3 1370.9 529.7 1368.9 C530.2 1367.0 530.6 1365.0 531.1 1363.1 C531.5 1361.2 532.0 1359.2 532.5 1357.3 C533.0 1355.3 533.5 1353.4 534.1 1351.4 C534.6 1349.4 535.2 1347.5 535.8 1345.5 C536.4 1343.5 537.0 1341.6 537.7 1339.6 C538.4 1337.6 539.1 1335.6 539.8 1333.6 C540.6 1331.6 541.2 1329.5 542.2 1327.6 C543.1 1325.9 543.9 1323.9 545.3 1322.7 C546.4 1321.7 548.3 1320.9 549.5 1321.1 C550.9 1321.4 552.3 1322.9 553.2 1324.1 C554.3 1325.7 554.7 1327.8 555.3 1329.7 C556.0 1331.7 556.5 1333.8 557.0 1335.8 C557.6 1337.8 558.1 1339.8 558.6 1341.9 C559.1 1343.9 559.6 1345.9 560.1 1347.9 C560.6 1349.8 561.0 1351.8 561.5 1353.8 C561.9 1355.8 562.3 1357.8 562.8 1359.8 C563.2 1361.7 563.6 1363.7 564.0 1365.7 C564.4 1367.7 564.8 1369.6 565.2 1371.6 C565.5 1373.6 565.9 1375.5 566.3 1377.5 C566.6 1379.4 567.0 1381.4 567.4 1383.4 C567.7 1385.3 568.1 1387.3 568.4 1389.3 C568.8 1391.2 569.1 1393.2 569.5 1395.2 C569.8 1397.1 570.2 1399.1 570.5 1401.1 C570.9 1403.0 571.2 1405.0 571.6 1407.0 C571.9 1408.9 572.3 1410.9 572.6 1412.9 C572.9 1414.8 573.3 1416.8 573.6 1418.8 C574.0 1420.7 574.3 1422.7 574.7 1424.7 C575.0 1426.7 575.3 1428.6 575.7 1430.6 C576.0 1432.6 576.4 1434.6 576.7 1436.5 C577.1 1438.5 577.4 1440.5 577.8 1442.4 C578.1 1444.4 578.5 1446.4 578.8 1448.4 C579.2 1450.3 579.5 1452.3 579.9 1454.3 C580.3 1456.2 580.6 1458.2 581.0 1460.2 C581.3 1462.2 581.7 1464.1 582.1 1466.1 C582.4 1468.1 582.8 1470.0 583.2 1472.0 C583.6 1474.0 583.9 1475.9 584.3 1477.9 C584.7 1479.9 585.1 1481.9 585.5 1483.8 C585.9 1485.8 586.3 1487.7 586.7 1489.7 C587.1 1491.7 587.5 1493.6 587.9 1495.6 C588.3 1497.6 588.7 1499.5 589.1 1501.5 C589.5 1503.4 589.9 1505.4 590.4 1507.4 C590.8 1509.3 591.2 1511.3 591.7 1513.2 C592.1 1515.2 592.6 1517.1 593.0 1519.1 C593.5 1521.0 593.9 1523.0 594.4 1524.9 C594.9 1526.9 595.4 1528.8 595.8 1530.8 C596.3 1532.7 596.8 1534.7 597.3 1536.6 C597.8 1538.5 598.3 1540.5 598.8 1542.4 C599.3 1544.3 599.8 1546.3 600.4 1548.2 C600.9 1550.1 601.4 1552.1 602.0 1554.0 C602.5 1555.9 603.1 1557.8 603.7 1559.8 C604.2 1561.7 604.8 1563.6 605.4 1565.5 C606.0 1567.4 606.6 1569.4 607.2 1571.3 C607.8 1573.2 608.0 1575.3 609.0 1577.0 C612.9 1584.1 617.0 1591.3 621.9 1597.8 C624.0 1600.7 627.0 1603.0 630.0 1605.0 C632.3 1606.6 635.0 1608.0 637.8 1608.5 C645.0 1609.8 652.6 1610.0 660.0 1610.5 C673.3 1611.3 686.7 1611.4 700.0 1612.3 C706.7 1612.8 713.3 1614.2 720.0 1614.7 C741.0 1616.1 762.0 1617.2 783.0 1618.0 C813.7 1619.1 844.3 1619.8 875.0 1620.4 C911.7 1621.1 948.3 1621.3 985.0 1621.8 C1023.3 1622.3 1061.7 1623.1 1100.0 1623.5 C1166.7 1624.2 1233.3 1624.8 1300.0 1625.2 C1366.7 1625.6 1433.3 1625.9 1500.0 1626.0 C1691.3 1626.3 1882.7 1626.3 2074.0 1626.4 C2180.7 1626.5 2287.3 1626.5 2394.0 1626.6"/>
</g>
<rect x="1883.7" y="24" width="494.3" height="736.0" fill="#fff" stroke="#000" stroke-width="4.5"/>
<g font-size="60">
<text x="1930.5" y="157.3">ZnO NPs</text>
<rect x="1929.3" y="217.6" width="165.5" height="8.9" rx="3" ry="3" fill="#000000"/>
<text x="2106" y="242.8">0 min</text>
<rect x="1929.3" y="304.6" width="165.5" height="8.9" rx="3" ry="3" fill="#ee0a0a"/>
<text x="2106" y="329.8">30 min</text>
<rect x="1929.3" y="389.9" width="165.5" height="8.9" rx="3" ry="3" fill="#14f014"/>
<text x="2106" y="415.2">60 min</text>
<rect x="1929.3" y="475.4" width="165.5" height="8.9" rx="3" ry="3" fill="#0c00d8"/>
<text x="2106" y="500.7">90 min</text>
<rect x="1929.3" y="559.9" width="165.5" height="8.9" rx="3" ry="3" fill="#1eeeee"/>
<text x="2106" y="585.2">120 min</text>
<rect x="1929.3" y="645.5" width="165.5" height="8.9" rx="3" ry="3" fill="#ee0af0"/>
<text x="2106" y="670.8">150 min</text>
</g>
</svg></body></html>
